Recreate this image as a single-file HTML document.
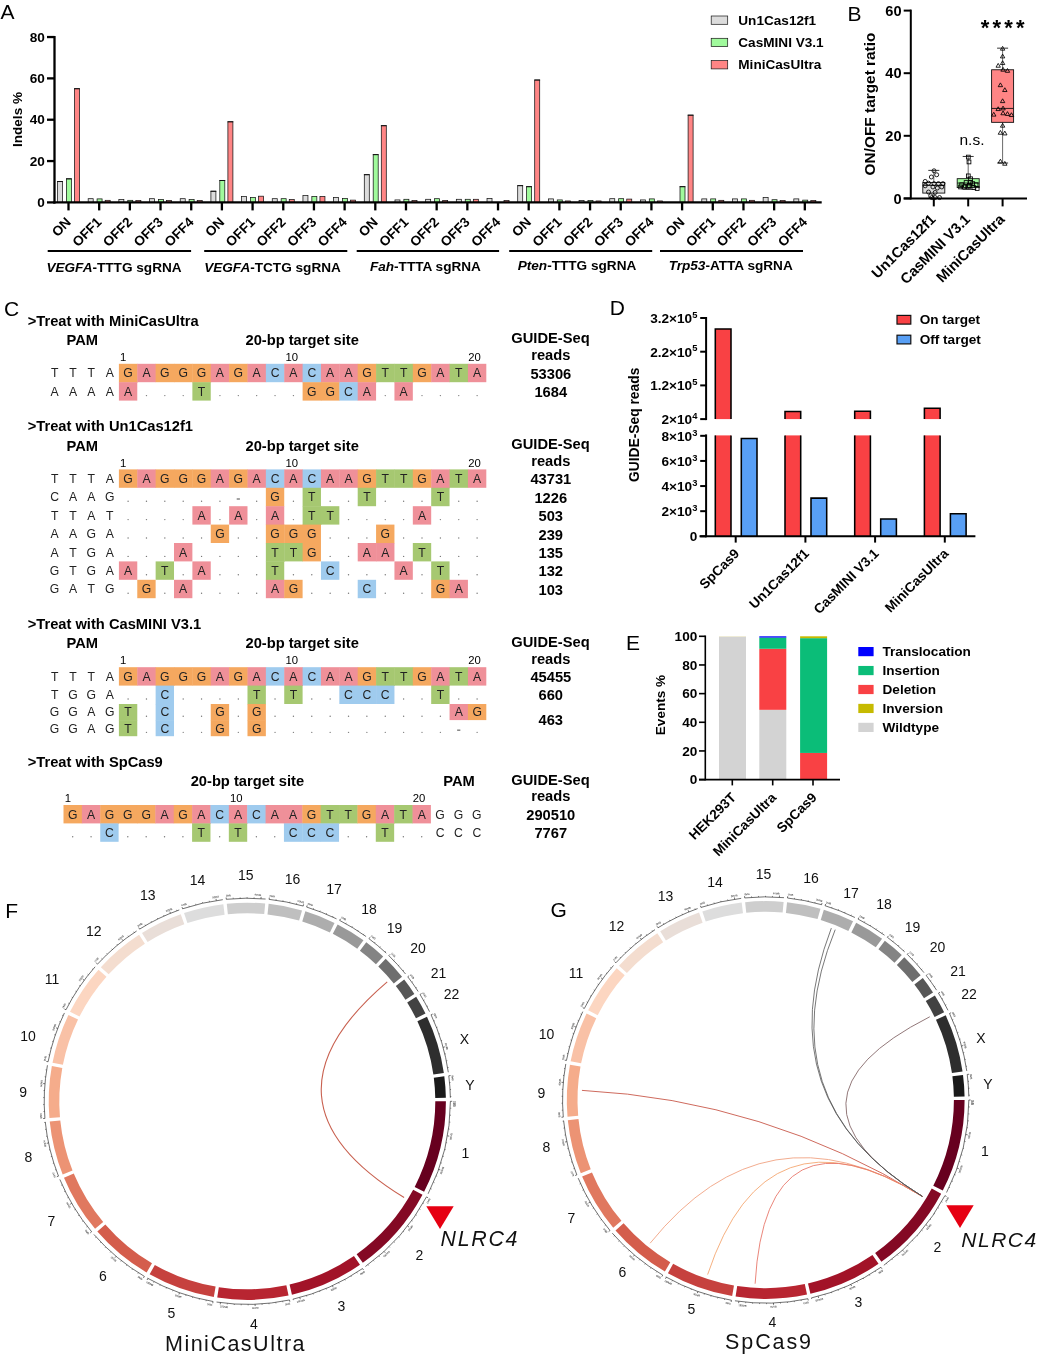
<!DOCTYPE html>
<html lang="en">
<head>
<meta charset="utf-8">
<title>Figure</title>
<style>
html,body{margin:0;padding:0;background:#fff;}
svg{display:block;font-family:"Liberation Sans", sans-serif;}
</style>
</head>
<body>
<svg width="1040" height="1356" viewBox="0 0 1040 1356">
<rect x="0" y="0" width="1040" height="1356" fill="#fff"/>
<text x="0.50" y="18.80" font-size="21">A</text>
<text x="847.50" y="20.60" font-size="21">B</text>
<text x="4.00" y="315.50" font-size="21">C</text>
<text x="609.80" y="315.20" font-size="21">D</text>
<text x="626.00" y="650.40" font-size="21">E</text>
<text x="5.30" y="917.60" font-size="21">F</text>
<text x="550.50" y="917.20" font-size="21">G</text>
<g id="panelA">
<rect x="57.50" y="181.52" width="5.00" height="20.88" fill="#dcdcdc" stroke="#151515" stroke-width="0.75" />
<line x1="57.10" y1="181.52" x2="62.90" y2="181.52" stroke="#111" stroke-width="1.0" />
<rect x="66.40" y="178.84" width="5.00" height="23.56" fill="#a0fa9c" stroke="#151515" stroke-width="0.75" />
<line x1="66.00" y1="178.84" x2="71.80" y2="178.84" stroke="#111" stroke-width="1.0" />
<rect x="74.50" y="88.72" width="5.00" height="113.69" fill="#ff8585" stroke="#151515" stroke-width="0.75" />
<line x1="74.10" y1="88.72" x2="79.90" y2="88.72" stroke="#111" stroke-width="1.0" />
<rect x="88.18" y="198.68" width="5.00" height="3.72" fill="#dcdcdc" stroke="#151515" stroke-width="0.75" />
<rect x="97.08" y="198.89" width="5.00" height="3.51" fill="#a0fa9c" stroke="#151515" stroke-width="0.75" />
<rect x="105.18" y="200.33" width="5.00" height="2.07" fill="#ff8585" stroke="#151515" stroke-width="0.75" />
<rect x="118.86" y="199.51" width="5.00" height="2.89" fill="#dcdcdc" stroke="#151515" stroke-width="0.75" />
<rect x="127.76" y="200.33" width="5.00" height="2.07" fill="#a0fa9c" stroke="#151515" stroke-width="0.75" />
<rect x="135.86" y="200.54" width="5.00" height="1.86" fill="#ff8585" stroke="#151515" stroke-width="0.75" />
<rect x="149.54" y="198.68" width="5.00" height="3.72" fill="#dcdcdc" stroke="#151515" stroke-width="0.75" />
<rect x="158.44" y="199.51" width="5.00" height="2.89" fill="#a0fa9c" stroke="#151515" stroke-width="0.75" />
<rect x="166.54" y="200.54" width="5.00" height="1.86" fill="#ff8585" stroke="#151515" stroke-width="0.75" />
<rect x="180.22" y="198.68" width="5.00" height="3.72" fill="#dcdcdc" stroke="#151515" stroke-width="0.75" />
<rect x="189.12" y="199.51" width="5.00" height="2.89" fill="#a0fa9c" stroke="#151515" stroke-width="0.75" />
<rect x="197.22" y="200.54" width="5.00" height="1.86" fill="#ff8585" stroke="#151515" stroke-width="0.75" />
<rect x="210.90" y="191.24" width="5.00" height="11.16" fill="#dcdcdc" stroke="#151515" stroke-width="0.75" />
<line x1="210.50" y1="191.24" x2="216.30" y2="191.24" stroke="#111" stroke-width="1.0" />
<rect x="219.80" y="180.49" width="5.00" height="21.91" fill="#a0fa9c" stroke="#151515" stroke-width="0.75" />
<line x1="219.40" y1="180.49" x2="225.20" y2="180.49" stroke="#111" stroke-width="1.0" />
<rect x="227.90" y="121.79" width="5.00" height="80.61" fill="#ff8585" stroke="#151515" stroke-width="0.75" />
<line x1="227.50" y1="121.79" x2="233.30" y2="121.79" stroke="#111" stroke-width="1.0" />
<rect x="241.58" y="196.41" width="5.00" height="5.99" fill="#dcdcdc" stroke="#151515" stroke-width="0.75" />
<rect x="250.48" y="197.44" width="5.00" height="4.96" fill="#a0fa9c" stroke="#151515" stroke-width="0.75" />
<rect x="258.58" y="196.20" width="5.00" height="6.20" fill="#ff8585" stroke="#151515" stroke-width="0.75" />
<rect x="272.26" y="198.68" width="5.00" height="3.72" fill="#dcdcdc" stroke="#151515" stroke-width="0.75" />
<rect x="281.16" y="198.68" width="5.00" height="3.72" fill="#a0fa9c" stroke="#151515" stroke-width="0.75" />
<rect x="289.26" y="199.51" width="5.00" height="2.89" fill="#ff8585" stroke="#151515" stroke-width="0.75" />
<rect x="302.94" y="195.58" width="5.00" height="6.82" fill="#dcdcdc" stroke="#151515" stroke-width="0.75" />
<rect x="311.84" y="196.41" width="5.00" height="5.99" fill="#a0fa9c" stroke="#151515" stroke-width="0.75" />
<rect x="319.94" y="196.41" width="5.00" height="5.99" fill="#ff8585" stroke="#151515" stroke-width="0.75" />
<rect x="333.62" y="197.44" width="5.00" height="4.96" fill="#dcdcdc" stroke="#151515" stroke-width="0.75" />
<rect x="342.52" y="198.47" width="5.00" height="3.93" fill="#a0fa9c" stroke="#151515" stroke-width="0.75" />
<rect x="350.62" y="200.13" width="5.00" height="2.27" fill="#ff8585" stroke="#151515" stroke-width="0.75" />
<rect x="364.30" y="174.70" width="5.00" height="27.70" fill="#dcdcdc" stroke="#151515" stroke-width="0.75" />
<line x1="363.90" y1="174.70" x2="369.70" y2="174.70" stroke="#111" stroke-width="1.0" />
<rect x="373.20" y="154.65" width="5.00" height="47.75" fill="#a0fa9c" stroke="#151515" stroke-width="0.75" />
<line x1="372.80" y1="154.65" x2="378.60" y2="154.65" stroke="#111" stroke-width="1.0" />
<rect x="381.30" y="125.71" width="5.00" height="76.69" fill="#ff8585" stroke="#151515" stroke-width="0.75" />
<line x1="380.90" y1="125.71" x2="386.70" y2="125.71" stroke="#111" stroke-width="1.0" />
<rect x="394.98" y="199.92" width="5.00" height="2.48" fill="#dcdcdc" stroke="#151515" stroke-width="0.75" />
<rect x="403.88" y="199.30" width="5.00" height="3.10" fill="#a0fa9c" stroke="#151515" stroke-width="0.75" />
<rect x="411.98" y="200.54" width="5.00" height="1.86" fill="#ff8585" stroke="#151515" stroke-width="0.75" />
<rect x="425.66" y="199.30" width="5.00" height="3.10" fill="#dcdcdc" stroke="#151515" stroke-width="0.75" />
<rect x="434.56" y="198.68" width="5.00" height="3.72" fill="#a0fa9c" stroke="#151515" stroke-width="0.75" />
<rect x="442.66" y="200.54" width="5.00" height="1.86" fill="#ff8585" stroke="#151515" stroke-width="0.75" />
<rect x="456.34" y="199.30" width="5.00" height="3.10" fill="#dcdcdc" stroke="#151515" stroke-width="0.75" />
<rect x="465.24" y="199.30" width="5.00" height="3.10" fill="#a0fa9c" stroke="#151515" stroke-width="0.75" />
<rect x="473.34" y="199.30" width="5.00" height="3.10" fill="#ff8585" stroke="#151515" stroke-width="0.75" />
<rect x="487.02" y="198.47" width="5.00" height="3.93" fill="#dcdcdc" stroke="#151515" stroke-width="0.75" />
<rect x="504.02" y="200.54" width="5.00" height="1.86" fill="#ff8585" stroke="#151515" stroke-width="0.75" />
<rect x="517.70" y="185.66" width="5.00" height="16.74" fill="#dcdcdc" stroke="#151515" stroke-width="0.75" />
<line x1="517.30" y1="185.66" x2="523.10" y2="185.66" stroke="#111" stroke-width="1.0" />
<rect x="526.60" y="186.69" width="5.00" height="15.71" fill="#a0fa9c" stroke="#151515" stroke-width="0.75" />
<line x1="526.20" y1="186.69" x2="532.00" y2="186.69" stroke="#111" stroke-width="1.0" />
<rect x="534.70" y="80.03" width="5.00" height="122.37" fill="#ff8585" stroke="#151515" stroke-width="0.75" />
<line x1="534.30" y1="80.03" x2="540.10" y2="80.03" stroke="#111" stroke-width="1.0" />
<rect x="548.38" y="198.89" width="5.00" height="3.51" fill="#dcdcdc" stroke="#151515" stroke-width="0.75" />
<rect x="557.28" y="199.92" width="5.00" height="2.48" fill="#a0fa9c" stroke="#151515" stroke-width="0.75" />
<rect x="565.38" y="200.95" width="5.00" height="1.45" fill="#ff8585" stroke="#151515" stroke-width="0.75" />
<rect x="579.06" y="200.54" width="5.00" height="1.86" fill="#dcdcdc" stroke="#151515" stroke-width="0.75" />
<rect x="587.96" y="200.54" width="5.00" height="1.86" fill="#a0fa9c" stroke="#151515" stroke-width="0.75" />
<rect x="596.06" y="200.95" width="5.00" height="1.45" fill="#ff8585" stroke="#151515" stroke-width="0.75" />
<rect x="609.74" y="198.68" width="5.00" height="3.72" fill="#dcdcdc" stroke="#151515" stroke-width="0.75" />
<rect x="618.64" y="198.68" width="5.00" height="3.72" fill="#a0fa9c" stroke="#151515" stroke-width="0.75" />
<rect x="626.74" y="199.09" width="5.00" height="3.31" fill="#ff8585" stroke="#151515" stroke-width="0.75" />
<rect x="640.42" y="199.92" width="5.00" height="2.48" fill="#dcdcdc" stroke="#151515" stroke-width="0.75" />
<rect x="649.32" y="198.89" width="5.00" height="3.51" fill="#a0fa9c" stroke="#151515" stroke-width="0.75" />
<rect x="657.42" y="200.95" width="5.00" height="1.45" fill="#ff8585" stroke="#151515" stroke-width="0.75" />
<rect x="680.00" y="186.69" width="5.00" height="15.71" fill="#a0fa9c" stroke="#151515" stroke-width="0.75" />
<line x1="679.60" y1="186.69" x2="685.40" y2="186.69" stroke="#111" stroke-width="1.0" />
<rect x="688.10" y="115.17" width="5.00" height="87.23" fill="#ff8585" stroke="#151515" stroke-width="0.75" />
<line x1="687.70" y1="115.17" x2="693.50" y2="115.17" stroke="#111" stroke-width="1.0" />
<rect x="701.78" y="198.89" width="5.00" height="3.51" fill="#dcdcdc" stroke="#151515" stroke-width="0.75" />
<rect x="710.68" y="198.89" width="5.00" height="3.51" fill="#a0fa9c" stroke="#151515" stroke-width="0.75" />
<rect x="718.78" y="200.33" width="5.00" height="2.07" fill="#ff8585" stroke="#151515" stroke-width="0.75" />
<rect x="732.46" y="198.89" width="5.00" height="3.51" fill="#dcdcdc" stroke="#151515" stroke-width="0.75" />
<rect x="741.36" y="198.89" width="5.00" height="3.51" fill="#a0fa9c" stroke="#151515" stroke-width="0.75" />
<rect x="749.46" y="200.33" width="5.00" height="2.07" fill="#ff8585" stroke="#151515" stroke-width="0.75" />
<rect x="763.14" y="197.44" width="5.00" height="4.96" fill="#dcdcdc" stroke="#151515" stroke-width="0.75" />
<rect x="772.04" y="199.71" width="5.00" height="2.69" fill="#a0fa9c" stroke="#151515" stroke-width="0.75" />
<rect x="780.14" y="200.54" width="5.00" height="1.86" fill="#ff8585" stroke="#151515" stroke-width="0.75" />
<rect x="793.82" y="198.89" width="5.00" height="3.51" fill="#dcdcdc" stroke="#151515" stroke-width="0.75" />
<rect x="802.72" y="200.13" width="5.00" height="2.27" fill="#a0fa9c" stroke="#151515" stroke-width="0.75" />
<rect x="810.82" y="200.54" width="5.00" height="1.86" fill="#ff8585" stroke="#151515" stroke-width="0.75" />
<line x1="54.50" y1="36.00" x2="54.50" y2="203.60" stroke="#000" stroke-width="2.3" />
<line x1="53.40" y1="202.40" x2="821.70" y2="202.40" stroke="#000" stroke-width="2.4" />
<line x1="47.00" y1="202.40" x2="54.50" y2="202.40" stroke="#000" stroke-width="2.3" />
<text x="44.80" y="207.10" font-size="13.6" font-weight="bold" text-anchor="end">0</text>
<line x1="47.00" y1="161.06" x2="54.50" y2="161.06" stroke="#000" stroke-width="2.3" />
<text x="44.80" y="165.76" font-size="13.6" font-weight="bold" text-anchor="end">20</text>
<line x1="47.00" y1="119.72" x2="54.50" y2="119.72" stroke="#000" stroke-width="2.3" />
<text x="44.80" y="124.42" font-size="13.6" font-weight="bold" text-anchor="end">40</text>
<line x1="47.00" y1="78.38" x2="54.50" y2="78.38" stroke="#000" stroke-width="2.3" />
<text x="44.80" y="83.08" font-size="13.6" font-weight="bold" text-anchor="end">60</text>
<line x1="47.00" y1="37.04" x2="54.50" y2="37.04" stroke="#000" stroke-width="2.3" />
<text x="44.80" y="41.74" font-size="13.6" font-weight="bold" text-anchor="end">80</text>
<line x1="68.50" y1="202.40" x2="68.50" y2="210.40" stroke="#000" stroke-width="2.3" />
<text x="71.80" y="223.00" font-size="13.6" font-weight="bold" text-anchor="end" transform="rotate(-45 71.80 223.00)">ON</text>
<line x1="99.18" y1="202.40" x2="99.18" y2="210.40" stroke="#000" stroke-width="2.3" />
<text x="102.48" y="223.00" font-size="13.6" font-weight="bold" text-anchor="end" transform="rotate(-45 102.48 223.00)">OFF1</text>
<line x1="129.86" y1="202.40" x2="129.86" y2="210.40" stroke="#000" stroke-width="2.3" />
<text x="133.16" y="223.00" font-size="13.6" font-weight="bold" text-anchor="end" transform="rotate(-45 133.16 223.00)">OFF2</text>
<line x1="160.54" y1="202.40" x2="160.54" y2="210.40" stroke="#000" stroke-width="2.3" />
<text x="163.84" y="223.00" font-size="13.6" font-weight="bold" text-anchor="end" transform="rotate(-45 163.84 223.00)">OFF3</text>
<line x1="191.22" y1="202.40" x2="191.22" y2="210.40" stroke="#000" stroke-width="2.3" />
<text x="194.52" y="223.00" font-size="13.6" font-weight="bold" text-anchor="end" transform="rotate(-45 194.52 223.00)">OFF4</text>
<line x1="221.90" y1="202.40" x2="221.90" y2="210.40" stroke="#000" stroke-width="2.3" />
<text x="225.20" y="223.00" font-size="13.6" font-weight="bold" text-anchor="end" transform="rotate(-45 225.20 223.00)">ON</text>
<line x1="252.58" y1="202.40" x2="252.58" y2="210.40" stroke="#000" stroke-width="2.3" />
<text x="255.88" y="223.00" font-size="13.6" font-weight="bold" text-anchor="end" transform="rotate(-45 255.88 223.00)">OFF1</text>
<line x1="283.26" y1="202.40" x2="283.26" y2="210.40" stroke="#000" stroke-width="2.3" />
<text x="286.56" y="223.00" font-size="13.6" font-weight="bold" text-anchor="end" transform="rotate(-45 286.56 223.00)">OFF2</text>
<line x1="313.94" y1="202.40" x2="313.94" y2="210.40" stroke="#000" stroke-width="2.3" />
<text x="317.24" y="223.00" font-size="13.6" font-weight="bold" text-anchor="end" transform="rotate(-45 317.24 223.00)">OFF3</text>
<line x1="344.62" y1="202.40" x2="344.62" y2="210.40" stroke="#000" stroke-width="2.3" />
<text x="347.92" y="223.00" font-size="13.6" font-weight="bold" text-anchor="end" transform="rotate(-45 347.92 223.00)">OFF4</text>
<line x1="375.30" y1="202.40" x2="375.30" y2="210.40" stroke="#000" stroke-width="2.3" />
<text x="378.60" y="223.00" font-size="13.6" font-weight="bold" text-anchor="end" transform="rotate(-45 378.60 223.00)">ON</text>
<line x1="405.98" y1="202.40" x2="405.98" y2="210.40" stroke="#000" stroke-width="2.3" />
<text x="409.28" y="223.00" font-size="13.6" font-weight="bold" text-anchor="end" transform="rotate(-45 409.28 223.00)">OFF1</text>
<line x1="436.66" y1="202.40" x2="436.66" y2="210.40" stroke="#000" stroke-width="2.3" />
<text x="439.96" y="223.00" font-size="13.6" font-weight="bold" text-anchor="end" transform="rotate(-45 439.96 223.00)">OFF2</text>
<line x1="467.34" y1="202.40" x2="467.34" y2="210.40" stroke="#000" stroke-width="2.3" />
<text x="470.64" y="223.00" font-size="13.6" font-weight="bold" text-anchor="end" transform="rotate(-45 470.64 223.00)">OFF3</text>
<line x1="498.02" y1="202.40" x2="498.02" y2="210.40" stroke="#000" stroke-width="2.3" />
<text x="501.32" y="223.00" font-size="13.6" font-weight="bold" text-anchor="end" transform="rotate(-45 501.32 223.00)">OFF4</text>
<line x1="528.70" y1="202.40" x2="528.70" y2="210.40" stroke="#000" stroke-width="2.3" />
<text x="532.00" y="223.00" font-size="13.6" font-weight="bold" text-anchor="end" transform="rotate(-45 532.00 223.00)">ON</text>
<line x1="559.38" y1="202.40" x2="559.38" y2="210.40" stroke="#000" stroke-width="2.3" />
<text x="562.68" y="223.00" font-size="13.6" font-weight="bold" text-anchor="end" transform="rotate(-45 562.68 223.00)">OFF1</text>
<line x1="590.06" y1="202.40" x2="590.06" y2="210.40" stroke="#000" stroke-width="2.3" />
<text x="593.36" y="223.00" font-size="13.6" font-weight="bold" text-anchor="end" transform="rotate(-45 593.36 223.00)">OFF2</text>
<line x1="620.74" y1="202.40" x2="620.74" y2="210.40" stroke="#000" stroke-width="2.3" />
<text x="624.04" y="223.00" font-size="13.6" font-weight="bold" text-anchor="end" transform="rotate(-45 624.04 223.00)">OFF3</text>
<line x1="651.42" y1="202.40" x2="651.42" y2="210.40" stroke="#000" stroke-width="2.3" />
<text x="654.72" y="223.00" font-size="13.6" font-weight="bold" text-anchor="end" transform="rotate(-45 654.72 223.00)">OFF4</text>
<line x1="682.10" y1="202.40" x2="682.10" y2="210.40" stroke="#000" stroke-width="2.3" />
<text x="685.40" y="223.00" font-size="13.6" font-weight="bold" text-anchor="end" transform="rotate(-45 685.40 223.00)">ON</text>
<line x1="712.78" y1="202.40" x2="712.78" y2="210.40" stroke="#000" stroke-width="2.3" />
<text x="716.08" y="223.00" font-size="13.6" font-weight="bold" text-anchor="end" transform="rotate(-45 716.08 223.00)">OFF1</text>
<line x1="743.46" y1="202.40" x2="743.46" y2="210.40" stroke="#000" stroke-width="2.3" />
<text x="746.76" y="223.00" font-size="13.6" font-weight="bold" text-anchor="end" transform="rotate(-45 746.76 223.00)">OFF2</text>
<line x1="774.14" y1="202.40" x2="774.14" y2="210.40" stroke="#000" stroke-width="2.3" />
<text x="777.44" y="223.00" font-size="13.6" font-weight="bold" text-anchor="end" transform="rotate(-45 777.44 223.00)">OFF3</text>
<line x1="804.82" y1="202.40" x2="804.82" y2="210.40" stroke="#000" stroke-width="2.3" />
<text x="808.12" y="223.00" font-size="13.6" font-weight="bold" text-anchor="end" transform="rotate(-45 808.12 223.00)">OFF4</text>
<text x="22.00" y="119.50" font-size="13.6" font-weight="bold" text-anchor="middle" transform="rotate(-90 22.00 119.50)">Indels %</text>
<line x1="47.70" y1="251.00" x2="191.10" y2="251.00" stroke="#000" stroke-width="2" />
<text x="114.00" y="271.60" font-size="13.6" font-weight="bold" text-anchor="middle"><tspan font-style="italic">VEGFA</tspan>-TTTG sgRNA</text>
<line x1="204.20" y1="251.00" x2="347.30" y2="251.00" stroke="#000" stroke-width="2" />
<text x="272.50" y="271.60" font-size="13.6" font-weight="bold" text-anchor="middle"><tspan font-style="italic">VEGFA</tspan>-TCTG sgRNA</text>
<line x1="356.70" y1="251.00" x2="499.10" y2="251.00" stroke="#000" stroke-width="2" />
<text x="425.40" y="271.20" font-size="13.6" font-weight="bold" text-anchor="middle"><tspan font-style="italic">Fah</tspan>-TTTA sgRNA</text>
<line x1="509.20" y1="251.00" x2="652.20" y2="251.00" stroke="#000" stroke-width="2" />
<text x="577.00" y="270.40" font-size="13.6" font-weight="bold" text-anchor="middle"><tspan font-style="italic">Pten</tspan>-TTTG sgRNA</text>
<line x1="660.00" y1="251.00" x2="803.00" y2="251.00" stroke="#000" stroke-width="2" />
<text x="730.70" y="270.00" font-size="13.6" font-weight="bold" text-anchor="middle"><tspan font-style="italic">Trp53</tspan>-ATTA sgRNA</text>
<rect x="711.20" y="16.00" width="16.50" height="8.30" fill="#dcdcdc" stroke="#151515" stroke-width="0.7" />
<text x="738.30" y="24.70" font-size="13.6" font-weight="bold">Un1Cas12f1</text>
<rect x="711.20" y="38.30" width="16.50" height="8.30" fill="#a0fa9c" stroke="#151515" stroke-width="0.7" />
<text x="738.30" y="47.00" font-size="13.6" font-weight="bold">CasMINI V3.1</text>
<rect x="711.20" y="60.60" width="16.50" height="8.30" fill="#ff8585" stroke="#151515" stroke-width="0.7" />
<text x="738.30" y="69.30" font-size="13.6" font-weight="bold">MiniCasUltra</text>
</g>
<g id="panelB">
<line x1="933.80" y1="170.39" x2="933.80" y2="198.09" stroke="#444" stroke-width="0.8" />
<line x1="928.30" y1="170.39" x2="939.30" y2="170.39" stroke="#111" stroke-width="0.85" />
<line x1="928.30" y1="198.09" x2="939.30" y2="198.09" stroke="#111" stroke-width="0.85" />
<rect x="922.80" y="182.44" width="22.00" height="10.64" fill="#dcdcdc" stroke="#111" stroke-width="0.9" />
<line x1="922.80" y1="185.41" x2="944.80" y2="185.41" stroke="#111" stroke-width="0.9" />
<line x1="968.20" y1="156.46" x2="968.20" y2="189.32" stroke="#444" stroke-width="0.8" />
<line x1="962.70" y1="156.46" x2="973.70" y2="156.46" stroke="#111" stroke-width="0.85" />
<line x1="962.70" y1="189.32" x2="973.70" y2="189.32" stroke="#111" stroke-width="0.85" />
<rect x="957.20" y="178.68" width="22.00" height="8.92" fill="#a0fa9c" stroke="#111" stroke-width="0.9" />
<line x1="957.20" y1="183.06" x2="979.20" y2="183.06" stroke="#111" stroke-width="0.9" />
<line x1="1002.60" y1="48.16" x2="1002.60" y2="163.03" stroke="#444" stroke-width="0.8" />
<line x1="997.10" y1="48.16" x2="1008.10" y2="48.16" stroke="#111" stroke-width="0.85" />
<line x1="997.10" y1="163.03" x2="1008.10" y2="163.03" stroke="#111" stroke-width="0.85" />
<rect x="991.60" y="69.76" width="22.00" height="52.58" fill="#ff8585" stroke="#111" stroke-width="0.9" />
<line x1="991.60" y1="108.41" x2="1013.60" y2="108.41" stroke="#111" stroke-width="0.9" />
<circle cx="934.03" cy="170.80" r="2.0" fill="none" stroke="#000" stroke-width="0.85"/>
<circle cx="936.68" cy="174.78" r="2.0" fill="none" stroke="#000" stroke-width="0.85"/>
<circle cx="931.37" cy="176.99" r="2.0" fill="none" stroke="#000" stroke-width="0.85"/>
<circle cx="925.18" cy="181.42" r="2.0" fill="none" stroke="#000" stroke-width="0.85"/>
<circle cx="928.50" cy="183.19" r="2.0" fill="none" stroke="#000" stroke-width="0.85"/>
<circle cx="934.03" cy="183.63" r="2.0" fill="none" stroke="#000" stroke-width="0.85"/>
<circle cx="938.45" cy="183.63" r="2.0" fill="none" stroke="#000" stroke-width="0.85"/>
<circle cx="942.88" cy="183.63" r="2.0" fill="none" stroke="#000" stroke-width="0.85"/>
<circle cx="925.18" cy="185.84" r="2.0" fill="none" stroke="#000" stroke-width="0.85"/>
<circle cx="932.92" cy="186.95" r="2.0" fill="none" stroke="#000" stroke-width="0.85"/>
<circle cx="937.35" cy="188.05" r="2.0" fill="none" stroke="#000" stroke-width="0.85"/>
<circle cx="928.50" cy="192.04" r="2.0" fill="none" stroke="#000" stroke-width="0.85"/>
<circle cx="935.13" cy="192.48" r="2.0" fill="none" stroke="#000" stroke-width="0.85"/>
<circle cx="930.71" cy="195.80" r="2.0" fill="none" stroke="#000" stroke-width="0.85"/>
<circle cx="935.13" cy="197.57" r="2.0" fill="none" stroke="#000" stroke-width="0.85"/>
<circle cx="939.56" cy="197.57" r="2.0" fill="none" stroke="#000" stroke-width="0.85"/>
<circle cx="931.81" cy="197.57" r="2.0" fill="none" stroke="#000" stroke-width="0.85"/>
<circle cx="941.77" cy="186.95" r="2.0" fill="none" stroke="#000" stroke-width="0.85"/>
<rect x="966.42" y="155.18" width="3.80" height="3.80" fill="none" stroke="#000" stroke-width="0.85" />
<rect x="967.08" y="160.05" width="3.80" height="3.80" fill="none" stroke="#000" stroke-width="0.85" />
<rect x="966.42" y="173.98" width="3.80" height="3.80" fill="none" stroke="#000" stroke-width="0.85" />
<rect x="968.63" y="176.86" width="3.80" height="3.80" fill="none" stroke="#000" stroke-width="0.85" />
<rect x="964.21" y="180.62" width="3.80" height="3.80" fill="none" stroke="#000" stroke-width="0.85" />
<rect x="968.63" y="180.62" width="3.80" height="3.80" fill="none" stroke="#000" stroke-width="0.85" />
<rect x="970.84" y="181.73" width="3.80" height="3.80" fill="none" stroke="#000" stroke-width="0.85" />
<rect x="958.68" y="185.05" width="3.80" height="3.80" fill="none" stroke="#000" stroke-width="0.85" />
<rect x="961.99" y="185.05" width="3.80" height="3.80" fill="none" stroke="#000" stroke-width="0.85" />
<rect x="966.42" y="185.05" width="3.80" height="3.80" fill="none" stroke="#000" stroke-width="0.85" />
<rect x="971.95" y="185.71" width="3.80" height="3.80" fill="none" stroke="#000" stroke-width="0.85" />
<rect x="975.27" y="186.60" width="3.80" height="3.80" fill="none" stroke="#000" stroke-width="0.85" />
<rect x="967.52" y="183.50" width="3.80" height="3.80" fill="none" stroke="#000" stroke-width="0.85" />
<rect x="959.78" y="182.83" width="3.80" height="3.80" fill="none" stroke="#000" stroke-width="0.85" />
<rect x="974.16" y="182.83" width="3.80" height="3.80" fill="none" stroke="#000" stroke-width="0.85" />
<path d="M1002.61 46.37 L1004.81 50.17 L1000.41 50.17 Z" fill="none" stroke="#000" stroke-width="0.85"/>
<path d="M1002.61 54.12 L1004.81 57.92 L1000.41 57.92 Z" fill="none" stroke="#000" stroke-width="0.85"/>
<path d="M1002.61 60.75 L1004.81 64.55 L1000.41 64.55 Z" fill="none" stroke="#000" stroke-width="0.85"/>
<path d="M998.19 63.41 L1000.39 67.21 L995.99 67.21 Z" fill="none" stroke="#000" stroke-width="0.85"/>
<path d="M1003.05 67.39 L1005.25 71.19 L1000.85 71.19 Z" fill="none" stroke="#000" stroke-width="0.85"/>
<path d="M1007.48 68.50 L1009.68 72.30 L1005.28 72.30 Z" fill="none" stroke="#000" stroke-width="0.85"/>
<path d="M1000.40 82.88 L1002.60 86.68 L998.20 86.68 Z" fill="none" stroke="#000" stroke-width="0.85"/>
<path d="M1004.82 87.74 L1007.02 91.54 L1002.62 91.54 Z" fill="none" stroke="#000" stroke-width="0.85"/>
<path d="M1002.61 98.81 L1004.81 102.61 L1000.41 102.61 Z" fill="none" stroke="#000" stroke-width="0.85"/>
<path d="M998.19 106.77 L1000.39 110.57 L995.99 110.57 Z" fill="none" stroke="#000" stroke-width="0.85"/>
<path d="M1003.05 106.11 L1005.25 109.91 L1000.85 109.91 Z" fill="none" stroke="#000" stroke-width="0.85"/>
<path d="M993.76 112.30 L995.96 116.10 L991.56 116.10 Z" fill="none" stroke="#000" stroke-width="0.85"/>
<path d="M1003.05 110.97 L1005.25 114.77 L1000.85 114.77 Z" fill="none" stroke="#000" stroke-width="0.85"/>
<path d="M1007.48 111.64 L1009.68 115.44 L1005.28 115.44 Z" fill="none" stroke="#000" stroke-width="0.85"/>
<path d="M1011.46 112.74 L1013.66 116.54 L1009.26 116.54 Z" fill="none" stroke="#000" stroke-width="0.85"/>
<path d="M1002.61 123.36 L1004.81 127.16 L1000.41 127.16 Z" fill="none" stroke="#000" stroke-width="0.85"/>
<path d="M1000.40 130.44 L1002.60 134.24 L998.20 134.24 Z" fill="none" stroke="#000" stroke-width="0.85"/>
<path d="M1004.82 131.11 L1007.02 134.91 L1002.62 134.91 Z" fill="none" stroke="#000" stroke-width="0.85"/>
<path d="M1000.40 159.20 L1002.60 163.00 L998.20 163.00 Z" fill="none" stroke="#000" stroke-width="0.85"/>
<path d="M1004.82 161.42 L1007.02 165.22 L1002.62 165.22 Z" fill="none" stroke="#000" stroke-width="0.85"/>
<line x1="910.80" y1="9.60" x2="910.80" y2="199.40" stroke="#000" stroke-width="2" />
<line x1="903.70" y1="198.40" x2="1027.00" y2="198.40" stroke="#000" stroke-width="2" />
<line x1="903.70" y1="198.40" x2="910.80" y2="198.40" stroke="#000" stroke-width="2" />
<text x="901.50" y="203.60" font-size="14.6" font-weight="bold" text-anchor="end">0</text>
<line x1="903.70" y1="135.80" x2="910.80" y2="135.80" stroke="#000" stroke-width="2" />
<text x="901.50" y="141.00" font-size="14.6" font-weight="bold" text-anchor="end">20</text>
<line x1="903.70" y1="73.20" x2="910.80" y2="73.20" stroke="#000" stroke-width="2" />
<text x="901.50" y="78.40" font-size="14.6" font-weight="bold" text-anchor="end">40</text>
<line x1="903.70" y1="10.60" x2="910.80" y2="10.60" stroke="#000" stroke-width="2" />
<text x="901.50" y="15.80" font-size="14.6" font-weight="bold" text-anchor="end">60</text>
<line x1="933.80" y1="198.40" x2="933.80" y2="206.40" stroke="#000" stroke-width="2" />
<text x="936.60" y="220.20" font-size="14.6" font-weight="bold" text-anchor="end" transform="rotate(-45 936.60 220.20)">Un1Cas12f1</text>
<line x1="968.20" y1="198.40" x2="968.20" y2="206.40" stroke="#000" stroke-width="2" />
<text x="971.00" y="220.20" font-size="14.6" font-weight="bold" text-anchor="end" transform="rotate(-45 971.00 220.20)">CasMINI V3.1</text>
<line x1="1002.60" y1="198.40" x2="1002.60" y2="206.40" stroke="#000" stroke-width="2" />
<text x="1005.40" y="220.20" font-size="14.6" font-weight="bold" text-anchor="end" transform="rotate(-45 1005.40 220.20)">MiniCasUltra</text>
<text x="875.30" y="104.00" font-size="15.4" font-weight="bold" text-anchor="middle" transform="rotate(-90 875.30 104.00)">ON/OFF target ratio</text>
<text x="972.00" y="145.00" font-size="15.5" text-anchor="middle">n.s.</text>
<text x="1004.20" y="34.60" font-size="22" font-weight="bold" text-anchor="middle" letter-spacing="3.2">****</text>
</g>
<g id="panelC">
<text x="27.70" y="326.20" font-size="14.7" font-weight="bold">&gt;Treat with MiniCasUltra</text>
<text x="82.30" y="345.00" font-size="14.7" font-weight="bold" text-anchor="middle">PAM</text>
<text x="302.20" y="345.00" font-size="14.7" font-weight="bold" text-anchor="middle">20-bp target site</text>
<text x="550.50" y="343.30" font-size="14.7" font-weight="bold" text-anchor="middle">GUIDE-Seq</text>
<text x="550.80" y="360.20" font-size="14.7" font-weight="bold" text-anchor="middle">reads</text>
<text x="120.10" y="360.90" font-size="11.3">1</text>
<text x="285.43" y="360.90" font-size="11.3">10</text>
<text x="468.13" y="360.90" font-size="11.3">20</text>
<rect x="118.90" y="363.80" width="18.77" height="18.80" fill="#f5a85f" />
<rect x="137.27" y="363.80" width="18.77" height="18.40" fill="#ef9099" />
<rect x="155.64" y="363.80" width="18.77" height="18.40" fill="#f5a85f" />
<rect x="174.01" y="363.80" width="18.77" height="18.40" fill="#f5a85f" />
<rect x="192.38" y="363.80" width="18.77" height="18.80" fill="#f5a85f" />
<rect x="210.75" y="363.80" width="18.77" height="18.40" fill="#ef9099" />
<rect x="229.12" y="363.80" width="18.77" height="18.40" fill="#f5a85f" />
<rect x="247.49" y="363.80" width="18.77" height="18.40" fill="#ef9099" />
<rect x="265.86" y="363.80" width="18.77" height="18.40" fill="#9fcbee" />
<rect x="284.23" y="363.80" width="18.77" height="18.40" fill="#ef9099" />
<rect x="302.60" y="363.80" width="18.77" height="18.80" fill="#9fcbee" />
<rect x="320.97" y="363.80" width="18.77" height="18.80" fill="#ef9099" />
<rect x="339.34" y="363.80" width="18.77" height="18.80" fill="#ef9099" />
<rect x="357.71" y="363.80" width="18.77" height="18.80" fill="#f5a85f" />
<rect x="376.08" y="363.80" width="18.77" height="18.40" fill="#a6c871" />
<rect x="394.45" y="363.80" width="18.77" height="18.80" fill="#a6c871" />
<rect x="412.82" y="363.80" width="18.77" height="18.40" fill="#f5a85f" />
<rect x="431.19" y="363.80" width="18.77" height="18.40" fill="#ef9099" />
<rect x="449.56" y="363.80" width="18.77" height="18.40" fill="#a6c871" />
<rect x="467.93" y="363.80" width="18.37" height="18.40" fill="#ef9099" />
<text x="128.09" y="377.40" font-size="12.2" text-anchor="middle" fill="#222">G</text>
<text x="146.46" y="377.40" font-size="12.2" text-anchor="middle" fill="#222">A</text>
<text x="164.83" y="377.40" font-size="12.2" text-anchor="middle" fill="#222">G</text>
<text x="183.19" y="377.40" font-size="12.2" text-anchor="middle" fill="#222">G</text>
<text x="201.56" y="377.40" font-size="12.2" text-anchor="middle" fill="#222">G</text>
<text x="219.94" y="377.40" font-size="12.2" text-anchor="middle" fill="#222">A</text>
<text x="238.31" y="377.40" font-size="12.2" text-anchor="middle" fill="#222">G</text>
<text x="256.68" y="377.40" font-size="12.2" text-anchor="middle" fill="#222">A</text>
<text x="275.05" y="377.40" font-size="12.2" text-anchor="middle" fill="#222">C</text>
<text x="293.42" y="377.40" font-size="12.2" text-anchor="middle" fill="#222">A</text>
<text x="311.79" y="377.40" font-size="12.2" text-anchor="middle" fill="#222">C</text>
<text x="330.16" y="377.40" font-size="12.2" text-anchor="middle" fill="#222">A</text>
<text x="348.52" y="377.40" font-size="12.2" text-anchor="middle" fill="#222">A</text>
<text x="366.89" y="377.40" font-size="12.2" text-anchor="middle" fill="#222">G</text>
<text x="385.26" y="377.40" font-size="12.2" text-anchor="middle" fill="#222">T</text>
<text x="403.63" y="377.40" font-size="12.2" text-anchor="middle" fill="#222">T</text>
<text x="422.00" y="377.40" font-size="12.2" text-anchor="middle" fill="#222">G</text>
<text x="440.38" y="377.40" font-size="12.2" text-anchor="middle" fill="#222">A</text>
<text x="458.75" y="377.40" font-size="12.2" text-anchor="middle" fill="#222">T</text>
<text x="477.12" y="377.40" font-size="12.2" text-anchor="middle" fill="#222">A</text>
<text x="54.61" y="377.40" font-size="12.2" text-anchor="middle" fill="#222">T</text>
<text x="72.97" y="377.40" font-size="12.2" text-anchor="middle" fill="#222">T</text>
<text x="91.34" y="377.40" font-size="12.2" text-anchor="middle" fill="#222">T</text>
<text x="109.72" y="377.40" font-size="12.2" text-anchor="middle" fill="#222">A</text>
<text x="550.80" y="378.70" font-size="14.7" font-weight="bold" text-anchor="middle">53306</text>
<rect x="118.90" y="382.20" width="18.37" height="18.40" fill="#ef9099" />
<rect x="192.38" y="382.20" width="18.37" height="18.40" fill="#a6c871" />
<rect x="302.60" y="382.20" width="18.77" height="18.40" fill="#f5a85f" />
<rect x="320.97" y="382.20" width="18.77" height="18.40" fill="#f5a85f" />
<rect x="339.34" y="382.20" width="18.77" height="18.40" fill="#9fcbee" />
<rect x="357.71" y="382.20" width="18.37" height="18.40" fill="#ef9099" />
<rect x="394.45" y="382.20" width="18.37" height="18.40" fill="#ef9099" />
<text x="128.09" y="395.80" font-size="12.2" text-anchor="middle" fill="#222">A</text>
<circle cx="146.46" cy="395.60" r="0.7" fill="#777"/>
<circle cx="164.83" cy="395.60" r="0.7" fill="#777"/>
<circle cx="183.19" cy="395.60" r="0.7" fill="#777"/>
<text x="201.56" y="395.80" font-size="12.2" text-anchor="middle" fill="#222">T</text>
<circle cx="219.94" cy="395.60" r="0.7" fill="#777"/>
<circle cx="238.31" cy="395.60" r="0.7" fill="#777"/>
<circle cx="256.68" cy="395.60" r="0.7" fill="#777"/>
<circle cx="275.05" cy="395.60" r="0.7" fill="#777"/>
<circle cx="293.42" cy="395.60" r="0.7" fill="#777"/>
<text x="311.79" y="395.80" font-size="12.2" text-anchor="middle" fill="#222">G</text>
<text x="330.16" y="395.80" font-size="12.2" text-anchor="middle" fill="#222">G</text>
<text x="348.52" y="395.80" font-size="12.2" text-anchor="middle" fill="#222">C</text>
<text x="366.89" y="395.80" font-size="12.2" text-anchor="middle" fill="#222">A</text>
<circle cx="385.26" cy="395.60" r="0.7" fill="#777"/>
<text x="403.63" y="395.80" font-size="12.2" text-anchor="middle" fill="#222">A</text>
<circle cx="422.00" cy="395.60" r="0.7" fill="#777"/>
<circle cx="440.38" cy="395.60" r="0.7" fill="#777"/>
<circle cx="458.75" cy="395.60" r="0.7" fill="#777"/>
<circle cx="477.12" cy="395.60" r="0.7" fill="#777"/>
<text x="54.61" y="395.80" font-size="12.2" text-anchor="middle" fill="#222">A</text>
<text x="72.97" y="395.80" font-size="12.2" text-anchor="middle" fill="#222">A</text>
<text x="91.34" y="395.80" font-size="12.2" text-anchor="middle" fill="#222">A</text>
<text x="109.72" y="395.80" font-size="12.2" text-anchor="middle" fill="#222">A</text>
<text x="550.80" y="397.10" font-size="14.7" font-weight="bold" text-anchor="middle">1684</text>
<text x="27.70" y="431.40" font-size="14.7" font-weight="bold">&gt;Treat with Un1Cas12f1</text>
<text x="82.30" y="450.60" font-size="14.7" font-weight="bold" text-anchor="middle">PAM</text>
<text x="302.20" y="450.60" font-size="14.7" font-weight="bold" text-anchor="middle">20-bp target site</text>
<text x="550.50" y="448.90" font-size="14.7" font-weight="bold" text-anchor="middle">GUIDE-Seq</text>
<text x="550.80" y="465.80" font-size="14.7" font-weight="bold" text-anchor="middle">reads</text>
<text x="120.10" y="466.50" font-size="11.3">1</text>
<text x="285.43" y="466.50" font-size="11.3">10</text>
<text x="468.13" y="466.50" font-size="11.3">20</text>
<rect x="118.90" y="469.40" width="18.77" height="18.40" fill="#f5a85f" />
<rect x="137.27" y="469.40" width="18.77" height="18.40" fill="#ef9099" />
<rect x="155.64" y="469.40" width="18.77" height="18.40" fill="#f5a85f" />
<rect x="174.01" y="469.40" width="18.77" height="18.40" fill="#f5a85f" />
<rect x="192.38" y="469.40" width="18.77" height="18.40" fill="#f5a85f" />
<rect x="210.75" y="469.40" width="18.77" height="18.40" fill="#ef9099" />
<rect x="229.12" y="469.40" width="18.77" height="18.40" fill="#f5a85f" />
<rect x="247.49" y="469.40" width="18.77" height="18.40" fill="#ef9099" />
<rect x="265.86" y="469.40" width="18.77" height="18.80" fill="#9fcbee" />
<rect x="284.23" y="469.40" width="18.77" height="18.40" fill="#ef9099" />
<rect x="302.60" y="469.40" width="18.77" height="18.80" fill="#9fcbee" />
<rect x="320.97" y="469.40" width="18.77" height="18.40" fill="#ef9099" />
<rect x="339.34" y="469.40" width="18.77" height="18.40" fill="#ef9099" />
<rect x="357.71" y="469.40" width="18.77" height="18.80" fill="#f5a85f" />
<rect x="376.08" y="469.40" width="18.77" height="18.40" fill="#a6c871" />
<rect x="394.45" y="469.40" width="18.77" height="18.40" fill="#a6c871" />
<rect x="412.82" y="469.40" width="18.77" height="18.40" fill="#f5a85f" />
<rect x="431.19" y="469.40" width="18.77" height="18.80" fill="#ef9099" />
<rect x="449.56" y="469.40" width="18.77" height="18.40" fill="#a6c871" />
<rect x="467.93" y="469.40" width="18.37" height="18.40" fill="#ef9099" />
<text x="128.09" y="483.00" font-size="12.2" text-anchor="middle" fill="#222">G</text>
<text x="146.46" y="483.00" font-size="12.2" text-anchor="middle" fill="#222">A</text>
<text x="164.83" y="483.00" font-size="12.2" text-anchor="middle" fill="#222">G</text>
<text x="183.19" y="483.00" font-size="12.2" text-anchor="middle" fill="#222">G</text>
<text x="201.56" y="483.00" font-size="12.2" text-anchor="middle" fill="#222">G</text>
<text x="219.94" y="483.00" font-size="12.2" text-anchor="middle" fill="#222">A</text>
<text x="238.31" y="483.00" font-size="12.2" text-anchor="middle" fill="#222">G</text>
<text x="256.68" y="483.00" font-size="12.2" text-anchor="middle" fill="#222">A</text>
<text x="275.05" y="483.00" font-size="12.2" text-anchor="middle" fill="#222">C</text>
<text x="293.42" y="483.00" font-size="12.2" text-anchor="middle" fill="#222">A</text>
<text x="311.79" y="483.00" font-size="12.2" text-anchor="middle" fill="#222">C</text>
<text x="330.16" y="483.00" font-size="12.2" text-anchor="middle" fill="#222">A</text>
<text x="348.52" y="483.00" font-size="12.2" text-anchor="middle" fill="#222">A</text>
<text x="366.89" y="483.00" font-size="12.2" text-anchor="middle" fill="#222">G</text>
<text x="385.26" y="483.00" font-size="12.2" text-anchor="middle" fill="#222">T</text>
<text x="403.63" y="483.00" font-size="12.2" text-anchor="middle" fill="#222">T</text>
<text x="422.00" y="483.00" font-size="12.2" text-anchor="middle" fill="#222">G</text>
<text x="440.38" y="483.00" font-size="12.2" text-anchor="middle" fill="#222">A</text>
<text x="458.75" y="483.00" font-size="12.2" text-anchor="middle" fill="#222">T</text>
<text x="477.12" y="483.00" font-size="12.2" text-anchor="middle" fill="#222">A</text>
<text x="54.61" y="483.00" font-size="12.2" text-anchor="middle" fill="#222">T</text>
<text x="72.97" y="483.00" font-size="12.2" text-anchor="middle" fill="#222">T</text>
<text x="91.34" y="483.00" font-size="12.2" text-anchor="middle" fill="#222">T</text>
<text x="109.72" y="483.00" font-size="12.2" text-anchor="middle" fill="#222">A</text>
<text x="550.80" y="484.30" font-size="14.7" font-weight="bold" text-anchor="middle">43731</text>
<rect x="265.86" y="487.80" width="18.37" height="18.80" fill="#f5a85f" />
<rect x="302.60" y="487.80" width="18.37" height="18.80" fill="#a6c871" />
<rect x="357.71" y="487.80" width="18.37" height="18.40" fill="#a6c871" />
<rect x="431.19" y="487.80" width="18.37" height="18.40" fill="#a6c871" />
<circle cx="128.09" cy="501.20" r="0.7" fill="#777"/>
<circle cx="146.46" cy="501.20" r="0.7" fill="#777"/>
<circle cx="164.83" cy="501.20" r="0.7" fill="#777"/>
<circle cx="183.19" cy="501.20" r="0.7" fill="#777"/>
<circle cx="201.56" cy="501.20" r="0.7" fill="#777"/>
<circle cx="219.94" cy="501.20" r="0.7" fill="#777"/>
<line x1="236.71" y1="499.00" x2="239.91" y2="499.00" stroke="#333" stroke-width="0.9" />
<circle cx="256.68" cy="501.20" r="0.7" fill="#777"/>
<text x="275.05" y="501.40" font-size="12.2" text-anchor="middle" fill="#222">G</text>
<circle cx="293.42" cy="501.20" r="0.7" fill="#777"/>
<text x="311.79" y="501.40" font-size="12.2" text-anchor="middle" fill="#222">T</text>
<circle cx="330.16" cy="501.20" r="0.7" fill="#777"/>
<circle cx="348.52" cy="501.20" r="0.7" fill="#777"/>
<text x="366.89" y="501.40" font-size="12.2" text-anchor="middle" fill="#222">T</text>
<circle cx="385.26" cy="501.20" r="0.7" fill="#777"/>
<circle cx="403.63" cy="501.20" r="0.7" fill="#777"/>
<circle cx="422.00" cy="501.20" r="0.7" fill="#777"/>
<text x="440.38" y="501.40" font-size="12.2" text-anchor="middle" fill="#222">T</text>
<circle cx="458.75" cy="501.20" r="0.7" fill="#777"/>
<circle cx="477.12" cy="501.20" r="0.7" fill="#777"/>
<text x="54.61" y="501.40" font-size="12.2" text-anchor="middle" fill="#222">C</text>
<text x="72.97" y="501.40" font-size="12.2" text-anchor="middle" fill="#222">A</text>
<text x="91.34" y="501.40" font-size="12.2" text-anchor="middle" fill="#222">A</text>
<text x="109.72" y="501.40" font-size="12.2" text-anchor="middle" fill="#222">G</text>
<text x="550.80" y="502.70" font-size="14.7" font-weight="bold" text-anchor="middle">1226</text>
<rect x="192.38" y="506.20" width="18.37" height="18.40" fill="#ef9099" />
<rect x="229.12" y="506.20" width="18.37" height="18.40" fill="#ef9099" />
<rect x="265.86" y="506.20" width="18.37" height="18.80" fill="#ef9099" />
<rect x="302.60" y="506.20" width="18.77" height="18.80" fill="#a6c871" />
<rect x="320.97" y="506.20" width="18.37" height="18.40" fill="#a6c871" />
<rect x="412.82" y="506.20" width="18.37" height="18.40" fill="#ef9099" />
<circle cx="128.09" cy="519.60" r="0.7" fill="#777"/>
<circle cx="146.46" cy="519.60" r="0.7" fill="#777"/>
<circle cx="164.83" cy="519.60" r="0.7" fill="#777"/>
<circle cx="183.19" cy="519.60" r="0.7" fill="#777"/>
<text x="201.56" y="519.80" font-size="12.2" text-anchor="middle" fill="#222">A</text>
<circle cx="219.94" cy="519.60" r="0.7" fill="#777"/>
<text x="238.31" y="519.80" font-size="12.2" text-anchor="middle" fill="#222">A</text>
<circle cx="256.68" cy="519.60" r="0.7" fill="#777"/>
<text x="275.05" y="519.80" font-size="12.2" text-anchor="middle" fill="#222">A</text>
<circle cx="293.42" cy="519.60" r="0.7" fill="#777"/>
<text x="311.79" y="519.80" font-size="12.2" text-anchor="middle" fill="#222">T</text>
<text x="330.16" y="519.80" font-size="12.2" text-anchor="middle" fill="#222">T</text>
<circle cx="348.52" cy="519.60" r="0.7" fill="#777"/>
<circle cx="366.89" cy="519.60" r="0.7" fill="#777"/>
<circle cx="385.26" cy="519.60" r="0.7" fill="#777"/>
<circle cx="403.63" cy="519.60" r="0.7" fill="#777"/>
<text x="422.00" y="519.80" font-size="12.2" text-anchor="middle" fill="#222">A</text>
<circle cx="440.38" cy="519.60" r="0.7" fill="#777"/>
<circle cx="458.75" cy="519.60" r="0.7" fill="#777"/>
<circle cx="477.12" cy="519.60" r="0.7" fill="#777"/>
<text x="54.61" y="519.80" font-size="12.2" text-anchor="middle" fill="#222">T</text>
<text x="72.97" y="519.80" font-size="12.2" text-anchor="middle" fill="#222">T</text>
<text x="91.34" y="519.80" font-size="12.2" text-anchor="middle" fill="#222">A</text>
<text x="109.72" y="519.80" font-size="12.2" text-anchor="middle" fill="#222">T</text>
<text x="550.80" y="521.10" font-size="14.7" font-weight="bold" text-anchor="middle">503</text>
<rect x="210.75" y="524.60" width="18.37" height="18.40" fill="#f5a85f" />
<rect x="265.86" y="524.60" width="18.77" height="18.80" fill="#f5a85f" />
<rect x="284.23" y="524.60" width="18.77" height="18.80" fill="#f5a85f" />
<rect x="302.60" y="524.60" width="18.37" height="18.80" fill="#f5a85f" />
<rect x="376.08" y="524.60" width="18.37" height="18.80" fill="#f5a85f" />
<circle cx="128.09" cy="538.00" r="0.7" fill="#777"/>
<circle cx="146.46" cy="538.00" r="0.7" fill="#777"/>
<circle cx="164.83" cy="538.00" r="0.7" fill="#777"/>
<circle cx="183.19" cy="538.00" r="0.7" fill="#777"/>
<circle cx="201.56" cy="538.00" r="0.7" fill="#777"/>
<text x="219.94" y="538.20" font-size="12.2" text-anchor="middle" fill="#222">G</text>
<circle cx="238.31" cy="538.00" r="0.7" fill="#777"/>
<circle cx="256.68" cy="538.00" r="0.7" fill="#777"/>
<text x="275.05" y="538.20" font-size="12.2" text-anchor="middle" fill="#222">G</text>
<text x="293.42" y="538.20" font-size="12.2" text-anchor="middle" fill="#222">G</text>
<text x="311.79" y="538.20" font-size="12.2" text-anchor="middle" fill="#222">G</text>
<circle cx="330.16" cy="538.00" r="0.7" fill="#777"/>
<circle cx="348.52" cy="538.00" r="0.7" fill="#777"/>
<circle cx="366.89" cy="538.00" r="0.7" fill="#777"/>
<text x="385.26" y="538.20" font-size="12.2" text-anchor="middle" fill="#222">G</text>
<circle cx="403.63" cy="538.00" r="0.7" fill="#777"/>
<circle cx="422.00" cy="538.00" r="0.7" fill="#777"/>
<circle cx="440.38" cy="538.00" r="0.7" fill="#777"/>
<circle cx="458.75" cy="538.00" r="0.7" fill="#777"/>
<circle cx="477.12" cy="538.00" r="0.7" fill="#777"/>
<text x="54.61" y="538.20" font-size="12.2" text-anchor="middle" fill="#222">A</text>
<text x="72.97" y="538.20" font-size="12.2" text-anchor="middle" fill="#222">A</text>
<text x="91.34" y="538.20" font-size="12.2" text-anchor="middle" fill="#222">G</text>
<text x="109.72" y="538.20" font-size="12.2" text-anchor="middle" fill="#222">A</text>
<text x="550.80" y="539.50" font-size="14.7" font-weight="bold" text-anchor="middle">239</text>
<rect x="174.01" y="543.00" width="18.37" height="18.40" fill="#ef9099" />
<rect x="265.86" y="543.00" width="18.77" height="18.80" fill="#a6c871" />
<rect x="284.23" y="543.00" width="18.77" height="18.40" fill="#a6c871" />
<rect x="302.60" y="543.00" width="18.37" height="18.40" fill="#f5a85f" />
<rect x="357.71" y="543.00" width="18.77" height="18.40" fill="#ef9099" />
<rect x="376.08" y="543.00" width="18.37" height="18.40" fill="#ef9099" />
<rect x="412.82" y="543.00" width="18.37" height="18.40" fill="#a6c871" />
<circle cx="128.09" cy="556.40" r="0.7" fill="#777"/>
<circle cx="146.46" cy="556.40" r="0.7" fill="#777"/>
<circle cx="164.83" cy="556.40" r="0.7" fill="#777"/>
<text x="183.19" y="556.60" font-size="12.2" text-anchor="middle" fill="#222">A</text>
<circle cx="201.56" cy="556.40" r="0.7" fill="#777"/>
<circle cx="219.94" cy="556.40" r="0.7" fill="#777"/>
<circle cx="238.31" cy="556.40" r="0.7" fill="#777"/>
<circle cx="256.68" cy="556.40" r="0.7" fill="#777"/>
<text x="275.05" y="556.60" font-size="12.2" text-anchor="middle" fill="#222">T</text>
<text x="293.42" y="556.60" font-size="12.2" text-anchor="middle" fill="#222">T</text>
<text x="311.79" y="556.60" font-size="12.2" text-anchor="middle" fill="#222">G</text>
<circle cx="330.16" cy="556.40" r="0.7" fill="#777"/>
<circle cx="348.52" cy="556.40" r="0.7" fill="#777"/>
<text x="366.89" y="556.60" font-size="12.2" text-anchor="middle" fill="#222">A</text>
<text x="385.26" y="556.60" font-size="12.2" text-anchor="middle" fill="#222">A</text>
<circle cx="403.63" cy="556.40" r="0.7" fill="#777"/>
<text x="422.00" y="556.60" font-size="12.2" text-anchor="middle" fill="#222">T</text>
<circle cx="440.38" cy="556.40" r="0.7" fill="#777"/>
<circle cx="458.75" cy="556.40" r="0.7" fill="#777"/>
<circle cx="477.12" cy="556.40" r="0.7" fill="#777"/>
<text x="54.61" y="556.60" font-size="12.2" text-anchor="middle" fill="#222">A</text>
<text x="72.97" y="556.60" font-size="12.2" text-anchor="middle" fill="#222">T</text>
<text x="91.34" y="556.60" font-size="12.2" text-anchor="middle" fill="#222">G</text>
<text x="109.72" y="556.60" font-size="12.2" text-anchor="middle" fill="#222">A</text>
<text x="550.80" y="557.90" font-size="14.7" font-weight="bold" text-anchor="middle">135</text>
<rect x="118.90" y="561.40" width="18.37" height="18.40" fill="#ef9099" />
<rect x="155.64" y="561.40" width="18.37" height="18.40" fill="#a6c871" />
<rect x="192.38" y="561.40" width="18.37" height="18.40" fill="#ef9099" />
<rect x="265.86" y="561.40" width="18.37" height="18.80" fill="#a6c871" />
<rect x="320.97" y="561.40" width="18.37" height="18.40" fill="#9fcbee" />
<rect x="394.45" y="561.40" width="18.37" height="18.40" fill="#ef9099" />
<rect x="431.19" y="561.40" width="18.37" height="18.80" fill="#a6c871" />
<text x="128.09" y="575.00" font-size="12.2" text-anchor="middle" fill="#222">A</text>
<circle cx="146.46" cy="574.80" r="0.7" fill="#777"/>
<text x="164.83" y="575.00" font-size="12.2" text-anchor="middle" fill="#222">T</text>
<circle cx="183.19" cy="574.80" r="0.7" fill="#777"/>
<text x="201.56" y="575.00" font-size="12.2" text-anchor="middle" fill="#222">A</text>
<circle cx="219.94" cy="574.80" r="0.7" fill="#777"/>
<circle cx="238.31" cy="574.80" r="0.7" fill="#777"/>
<circle cx="256.68" cy="574.80" r="0.7" fill="#777"/>
<text x="275.05" y="575.00" font-size="12.2" text-anchor="middle" fill="#222">T</text>
<circle cx="293.42" cy="574.80" r="0.7" fill="#777"/>
<circle cx="311.79" cy="574.80" r="0.7" fill="#777"/>
<text x="330.16" y="575.00" font-size="12.2" text-anchor="middle" fill="#222">C</text>
<circle cx="348.52" cy="574.80" r="0.7" fill="#777"/>
<circle cx="366.89" cy="574.80" r="0.7" fill="#777"/>
<circle cx="385.26" cy="574.80" r="0.7" fill="#777"/>
<text x="403.63" y="575.00" font-size="12.2" text-anchor="middle" fill="#222">A</text>
<circle cx="422.00" cy="574.80" r="0.7" fill="#777"/>
<text x="440.38" y="575.00" font-size="12.2" text-anchor="middle" fill="#222">T</text>
<circle cx="458.75" cy="574.80" r="0.7" fill="#777"/>
<circle cx="477.12" cy="574.80" r="0.7" fill="#777"/>
<text x="54.61" y="575.00" font-size="12.2" text-anchor="middle" fill="#222">G</text>
<text x="72.97" y="575.00" font-size="12.2" text-anchor="middle" fill="#222">T</text>
<text x="91.34" y="575.00" font-size="12.2" text-anchor="middle" fill="#222">G</text>
<text x="109.72" y="575.00" font-size="12.2" text-anchor="middle" fill="#222">A</text>
<text x="550.80" y="576.30" font-size="14.7" font-weight="bold" text-anchor="middle">132</text>
<rect x="137.27" y="579.80" width="18.37" height="18.40" fill="#f5a85f" />
<rect x="174.01" y="579.80" width="18.37" height="18.40" fill="#ef9099" />
<rect x="265.86" y="579.80" width="18.77" height="18.40" fill="#ef9099" />
<rect x="284.23" y="579.80" width="18.37" height="18.40" fill="#f5a85f" />
<rect x="357.71" y="579.80" width="18.37" height="18.40" fill="#9fcbee" />
<rect x="431.19" y="579.80" width="18.77" height="18.40" fill="#f5a85f" />
<rect x="449.56" y="579.80" width="18.37" height="18.40" fill="#ef9099" />
<circle cx="128.09" cy="593.20" r="0.7" fill="#777"/>
<text x="146.46" y="593.40" font-size="12.2" text-anchor="middle" fill="#222">G</text>
<circle cx="164.83" cy="593.20" r="0.7" fill="#777"/>
<text x="183.19" y="593.40" font-size="12.2" text-anchor="middle" fill="#222">A</text>
<circle cx="201.56" cy="593.20" r="0.7" fill="#777"/>
<circle cx="219.94" cy="593.20" r="0.7" fill="#777"/>
<circle cx="238.31" cy="593.20" r="0.7" fill="#777"/>
<circle cx="256.68" cy="593.20" r="0.7" fill="#777"/>
<text x="275.05" y="593.40" font-size="12.2" text-anchor="middle" fill="#222">A</text>
<text x="293.42" y="593.40" font-size="12.2" text-anchor="middle" fill="#222">G</text>
<circle cx="311.79" cy="593.20" r="0.7" fill="#777"/>
<circle cx="330.16" cy="593.20" r="0.7" fill="#777"/>
<circle cx="348.52" cy="593.20" r="0.7" fill="#777"/>
<text x="366.89" y="593.40" font-size="12.2" text-anchor="middle" fill="#222">C</text>
<circle cx="385.26" cy="593.20" r="0.7" fill="#777"/>
<circle cx="403.63" cy="593.20" r="0.7" fill="#777"/>
<circle cx="422.00" cy="593.20" r="0.7" fill="#777"/>
<text x="440.38" y="593.40" font-size="12.2" text-anchor="middle" fill="#222">G</text>
<text x="458.75" y="593.40" font-size="12.2" text-anchor="middle" fill="#222">A</text>
<circle cx="477.12" cy="593.20" r="0.7" fill="#777"/>
<text x="54.61" y="593.40" font-size="12.2" text-anchor="middle" fill="#222">G</text>
<text x="72.97" y="593.40" font-size="12.2" text-anchor="middle" fill="#222">A</text>
<text x="91.34" y="593.40" font-size="12.2" text-anchor="middle" fill="#222">T</text>
<text x="109.72" y="593.40" font-size="12.2" text-anchor="middle" fill="#222">G</text>
<text x="550.80" y="594.70" font-size="14.7" font-weight="bold" text-anchor="middle">103</text>
<text x="27.70" y="629.40" font-size="14.7" font-weight="bold">&gt;Treat with CasMINI V3.1</text>
<text x="82.30" y="648.40" font-size="14.7" font-weight="bold" text-anchor="middle">PAM</text>
<text x="302.20" y="648.40" font-size="14.7" font-weight="bold" text-anchor="middle">20-bp target site</text>
<text x="550.50" y="646.70" font-size="14.7" font-weight="bold" text-anchor="middle">GUIDE-Seq</text>
<text x="550.80" y="663.60" font-size="14.7" font-weight="bold" text-anchor="middle">reads</text>
<text x="120.10" y="664.30" font-size="11.3">1</text>
<text x="285.43" y="664.30" font-size="11.3">10</text>
<text x="468.13" y="664.30" font-size="11.3">20</text>
<rect x="118.90" y="667.20" width="18.77" height="18.40" fill="#f5a85f" />
<rect x="137.27" y="667.20" width="18.77" height="18.40" fill="#ef9099" />
<rect x="155.64" y="667.20" width="18.77" height="18.80" fill="#f5a85f" />
<rect x="174.01" y="667.20" width="18.77" height="18.40" fill="#f5a85f" />
<rect x="192.38" y="667.20" width="18.77" height="18.40" fill="#f5a85f" />
<rect x="210.75" y="667.20" width="18.77" height="18.40" fill="#ef9099" />
<rect x="229.12" y="667.20" width="18.77" height="18.40" fill="#f5a85f" />
<rect x="247.49" y="667.20" width="18.77" height="18.80" fill="#ef9099" />
<rect x="265.86" y="667.20" width="18.77" height="18.40" fill="#9fcbee" />
<rect x="284.23" y="667.20" width="18.77" height="18.80" fill="#ef9099" />
<rect x="302.60" y="667.20" width="18.77" height="18.40" fill="#9fcbee" />
<rect x="320.97" y="667.20" width="18.77" height="18.40" fill="#ef9099" />
<rect x="339.34" y="667.20" width="18.77" height="18.80" fill="#ef9099" />
<rect x="357.71" y="667.20" width="18.77" height="18.80" fill="#f5a85f" />
<rect x="376.08" y="667.20" width="18.77" height="18.80" fill="#a6c871" />
<rect x="394.45" y="667.20" width="18.77" height="18.40" fill="#a6c871" />
<rect x="412.82" y="667.20" width="18.77" height="18.40" fill="#f5a85f" />
<rect x="431.19" y="667.20" width="18.77" height="18.80" fill="#ef9099" />
<rect x="449.56" y="667.20" width="18.77" height="18.40" fill="#a6c871" />
<rect x="467.93" y="667.20" width="18.37" height="18.40" fill="#ef9099" />
<text x="128.09" y="680.80" font-size="12.2" text-anchor="middle" fill="#222">G</text>
<text x="146.46" y="680.80" font-size="12.2" text-anchor="middle" fill="#222">A</text>
<text x="164.83" y="680.80" font-size="12.2" text-anchor="middle" fill="#222">G</text>
<text x="183.19" y="680.80" font-size="12.2" text-anchor="middle" fill="#222">G</text>
<text x="201.56" y="680.80" font-size="12.2" text-anchor="middle" fill="#222">G</text>
<text x="219.94" y="680.80" font-size="12.2" text-anchor="middle" fill="#222">A</text>
<text x="238.31" y="680.80" font-size="12.2" text-anchor="middle" fill="#222">G</text>
<text x="256.68" y="680.80" font-size="12.2" text-anchor="middle" fill="#222">A</text>
<text x="275.05" y="680.80" font-size="12.2" text-anchor="middle" fill="#222">C</text>
<text x="293.42" y="680.80" font-size="12.2" text-anchor="middle" fill="#222">A</text>
<text x="311.79" y="680.80" font-size="12.2" text-anchor="middle" fill="#222">C</text>
<text x="330.16" y="680.80" font-size="12.2" text-anchor="middle" fill="#222">A</text>
<text x="348.52" y="680.80" font-size="12.2" text-anchor="middle" fill="#222">A</text>
<text x="366.89" y="680.80" font-size="12.2" text-anchor="middle" fill="#222">G</text>
<text x="385.26" y="680.80" font-size="12.2" text-anchor="middle" fill="#222">T</text>
<text x="403.63" y="680.80" font-size="12.2" text-anchor="middle" fill="#222">T</text>
<text x="422.00" y="680.80" font-size="12.2" text-anchor="middle" fill="#222">G</text>
<text x="440.38" y="680.80" font-size="12.2" text-anchor="middle" fill="#222">A</text>
<text x="458.75" y="680.80" font-size="12.2" text-anchor="middle" fill="#222">T</text>
<text x="477.12" y="680.80" font-size="12.2" text-anchor="middle" fill="#222">A</text>
<text x="54.61" y="680.80" font-size="12.2" text-anchor="middle" fill="#222">T</text>
<text x="72.97" y="680.80" font-size="12.2" text-anchor="middle" fill="#222">T</text>
<text x="91.34" y="680.80" font-size="12.2" text-anchor="middle" fill="#222">T</text>
<text x="109.72" y="680.80" font-size="12.2" text-anchor="middle" fill="#222">A</text>
<rect x="155.64" y="685.60" width="18.37" height="18.80" fill="#9fcbee" />
<rect x="247.49" y="685.60" width="18.37" height="18.80" fill="#a6c871" />
<rect x="284.23" y="685.60" width="18.37" height="18.40" fill="#a6c871" />
<rect x="339.34" y="685.60" width="18.77" height="18.40" fill="#9fcbee" />
<rect x="357.71" y="685.60" width="18.77" height="18.40" fill="#9fcbee" />
<rect x="376.08" y="685.60" width="18.37" height="18.40" fill="#9fcbee" />
<rect x="431.19" y="685.60" width="18.37" height="18.40" fill="#a6c871" />
<circle cx="128.09" cy="699.00" r="0.7" fill="#777"/>
<circle cx="146.46" cy="699.00" r="0.7" fill="#777"/>
<text x="164.83" y="699.20" font-size="12.2" text-anchor="middle" fill="#222">C</text>
<circle cx="183.19" cy="699.00" r="0.7" fill="#777"/>
<circle cx="201.56" cy="699.00" r="0.7" fill="#777"/>
<circle cx="219.94" cy="699.00" r="0.7" fill="#777"/>
<circle cx="238.31" cy="699.00" r="0.7" fill="#777"/>
<text x="256.68" y="699.20" font-size="12.2" text-anchor="middle" fill="#222">T</text>
<circle cx="275.05" cy="699.00" r="0.7" fill="#777"/>
<text x="293.42" y="699.20" font-size="12.2" text-anchor="middle" fill="#222">T</text>
<circle cx="311.79" cy="699.00" r="0.7" fill="#777"/>
<circle cx="330.16" cy="699.00" r="0.7" fill="#777"/>
<text x="348.52" y="699.20" font-size="12.2" text-anchor="middle" fill="#222">C</text>
<text x="366.89" y="699.20" font-size="12.2" text-anchor="middle" fill="#222">C</text>
<text x="385.26" y="699.20" font-size="12.2" text-anchor="middle" fill="#222">C</text>
<circle cx="403.63" cy="699.00" r="0.7" fill="#777"/>
<circle cx="422.00" cy="699.00" r="0.7" fill="#777"/>
<text x="440.38" y="699.20" font-size="12.2" text-anchor="middle" fill="#222">T</text>
<circle cx="458.75" cy="699.00" r="0.7" fill="#777"/>
<circle cx="477.12" cy="699.00" r="0.7" fill="#777"/>
<text x="54.61" y="699.20" font-size="12.2" text-anchor="middle" fill="#222">T</text>
<text x="72.97" y="699.20" font-size="12.2" text-anchor="middle" fill="#222">G</text>
<text x="91.34" y="699.20" font-size="12.2" text-anchor="middle" fill="#222">G</text>
<text x="109.72" y="699.20" font-size="12.2" text-anchor="middle" fill="#222">A</text>
<rect x="118.90" y="704.00" width="18.37" height="16.50" fill="#a6c871" />
<rect x="155.64" y="704.00" width="18.37" height="16.50" fill="#9fcbee" />
<rect x="210.75" y="704.00" width="18.37" height="16.50" fill="#f5a85f" />
<rect x="247.49" y="704.00" width="18.37" height="16.50" fill="#f5a85f" />
<rect x="449.56" y="704.00" width="18.77" height="16.10" fill="#ef9099" />
<rect x="467.93" y="704.00" width="18.37" height="16.10" fill="#f5a85f" />
<text x="128.09" y="716.45" font-size="12.2" text-anchor="middle" fill="#222">T</text>
<circle cx="146.46" cy="716.25" r="0.7" fill="#777"/>
<text x="164.83" y="716.45" font-size="12.2" text-anchor="middle" fill="#222">C</text>
<circle cx="183.19" cy="716.25" r="0.7" fill="#777"/>
<circle cx="201.56" cy="716.25" r="0.7" fill="#777"/>
<text x="219.94" y="716.45" font-size="12.2" text-anchor="middle" fill="#222">G</text>
<circle cx="238.31" cy="716.25" r="0.7" fill="#777"/>
<text x="256.68" y="716.45" font-size="12.2" text-anchor="middle" fill="#222">G</text>
<circle cx="275.05" cy="716.25" r="0.7" fill="#777"/>
<circle cx="293.42" cy="716.25" r="0.7" fill="#777"/>
<circle cx="311.79" cy="716.25" r="0.7" fill="#777"/>
<circle cx="330.16" cy="716.25" r="0.7" fill="#777"/>
<circle cx="348.52" cy="716.25" r="0.7" fill="#777"/>
<circle cx="366.89" cy="716.25" r="0.7" fill="#777"/>
<circle cx="385.26" cy="716.25" r="0.7" fill="#777"/>
<circle cx="403.63" cy="716.25" r="0.7" fill="#777"/>
<circle cx="422.00" cy="716.25" r="0.7" fill="#777"/>
<circle cx="440.38" cy="716.25" r="0.7" fill="#777"/>
<text x="458.75" y="716.45" font-size="12.2" text-anchor="middle" fill="#222">A</text>
<text x="477.12" y="716.45" font-size="12.2" text-anchor="middle" fill="#222">G</text>
<text x="54.61" y="716.45" font-size="12.2" text-anchor="middle" fill="#222">G</text>
<text x="72.97" y="716.45" font-size="12.2" text-anchor="middle" fill="#222">G</text>
<text x="91.34" y="716.45" font-size="12.2" text-anchor="middle" fill="#222">A</text>
<text x="109.72" y="716.45" font-size="12.2" text-anchor="middle" fill="#222">G</text>
<rect x="118.90" y="720.10" width="18.37" height="16.10" fill="#a6c871" />
<rect x="155.64" y="720.10" width="18.37" height="16.10" fill="#9fcbee" />
<rect x="210.75" y="720.10" width="18.37" height="16.10" fill="#f5a85f" />
<rect x="247.49" y="720.10" width="18.37" height="16.10" fill="#f5a85f" />
<text x="128.09" y="732.55" font-size="12.2" text-anchor="middle" fill="#222">T</text>
<circle cx="146.46" cy="732.35" r="0.7" fill="#777"/>
<text x="164.83" y="732.55" font-size="12.2" text-anchor="middle" fill="#222">C</text>
<circle cx="183.19" cy="732.35" r="0.7" fill="#777"/>
<circle cx="201.56" cy="732.35" r="0.7" fill="#777"/>
<text x="219.94" y="732.55" font-size="12.2" text-anchor="middle" fill="#222">G</text>
<circle cx="238.31" cy="732.35" r="0.7" fill="#777"/>
<text x="256.68" y="732.55" font-size="12.2" text-anchor="middle" fill="#222">G</text>
<circle cx="275.05" cy="732.35" r="0.7" fill="#777"/>
<circle cx="293.42" cy="732.35" r="0.7" fill="#777"/>
<circle cx="311.79" cy="732.35" r="0.7" fill="#777"/>
<circle cx="330.16" cy="732.35" r="0.7" fill="#777"/>
<circle cx="348.52" cy="732.35" r="0.7" fill="#777"/>
<circle cx="366.89" cy="732.35" r="0.7" fill="#777"/>
<circle cx="385.26" cy="732.35" r="0.7" fill="#777"/>
<circle cx="403.63" cy="732.35" r="0.7" fill="#777"/>
<circle cx="422.00" cy="732.35" r="0.7" fill="#777"/>
<circle cx="440.38" cy="732.35" r="0.7" fill="#777"/>
<line x1="457.14" y1="730.15" x2="460.35" y2="730.15" stroke="#333" stroke-width="0.9" />
<circle cx="477.12" cy="732.35" r="0.7" fill="#777"/>
<text x="54.61" y="732.55" font-size="12.2" text-anchor="middle" fill="#222">G</text>
<text x="72.97" y="732.55" font-size="12.2" text-anchor="middle" fill="#222">G</text>
<text x="91.34" y="732.55" font-size="12.2" text-anchor="middle" fill="#222">A</text>
<text x="109.72" y="732.55" font-size="12.2" text-anchor="middle" fill="#222">G</text>
<text x="550.80" y="682.10" font-size="14.7" font-weight="bold" text-anchor="middle">45455</text>
<text x="550.80" y="700.30" font-size="14.7" font-weight="bold" text-anchor="middle">660</text>
<text x="550.80" y="725.30" font-size="14.7" font-weight="bold" text-anchor="middle">463</text>
<text x="27.70" y="767.10" font-size="14.7" font-weight="bold">&gt;Treat with SpCas9</text>
<text x="247.40" y="786.20" font-size="14.7" font-weight="bold" text-anchor="middle">20-bp target site</text>
<text x="459.00" y="786.20" font-size="14.7" font-weight="bold" text-anchor="middle">PAM</text>
<text x="550.50" y="784.50" font-size="14.7" font-weight="bold" text-anchor="middle">GUIDE-Seq</text>
<text x="550.80" y="801.40" font-size="14.7" font-weight="bold" text-anchor="middle">reads</text>
<text x="64.70" y="802.10" font-size="11.3">1</text>
<text x="230.03" y="802.10" font-size="11.3">10</text>
<text x="412.73" y="802.10" font-size="11.3">20</text>
<rect x="63.50" y="805.00" width="18.77" height="18.40" fill="#f5a85f" />
<rect x="81.87" y="805.00" width="18.77" height="18.40" fill="#ef9099" />
<rect x="100.24" y="805.00" width="18.77" height="18.80" fill="#f5a85f" />
<rect x="118.61" y="805.00" width="18.77" height="18.40" fill="#f5a85f" />
<rect x="136.98" y="805.00" width="18.77" height="18.40" fill="#f5a85f" />
<rect x="155.35" y="805.00" width="18.77" height="18.40" fill="#ef9099" />
<rect x="173.72" y="805.00" width="18.77" height="18.40" fill="#f5a85f" />
<rect x="192.09" y="805.00" width="18.77" height="18.80" fill="#ef9099" />
<rect x="210.46" y="805.00" width="18.77" height="18.40" fill="#9fcbee" />
<rect x="228.83" y="805.00" width="18.77" height="18.80" fill="#ef9099" />
<rect x="247.20" y="805.00" width="18.77" height="18.40" fill="#9fcbee" />
<rect x="265.57" y="805.00" width="18.77" height="18.40" fill="#ef9099" />
<rect x="283.94" y="805.00" width="18.77" height="18.80" fill="#ef9099" />
<rect x="302.31" y="805.00" width="18.77" height="18.80" fill="#f5a85f" />
<rect x="320.68" y="805.00" width="18.77" height="18.80" fill="#a6c871" />
<rect x="339.05" y="805.00" width="18.77" height="18.40" fill="#a6c871" />
<rect x="357.42" y="805.00" width="18.77" height="18.40" fill="#f5a85f" />
<rect x="375.79" y="805.00" width="18.77" height="18.80" fill="#ef9099" />
<rect x="394.16" y="805.00" width="18.77" height="18.40" fill="#a6c871" />
<rect x="412.53" y="805.00" width="18.37" height="18.40" fill="#ef9099" />
<text x="72.69" y="818.60" font-size="12.2" text-anchor="middle" fill="#222">G</text>
<text x="91.06" y="818.60" font-size="12.2" text-anchor="middle" fill="#222">A</text>
<text x="109.43" y="818.60" font-size="12.2" text-anchor="middle" fill="#222">G</text>
<text x="127.80" y="818.60" font-size="12.2" text-anchor="middle" fill="#222">G</text>
<text x="146.17" y="818.60" font-size="12.2" text-anchor="middle" fill="#222">G</text>
<text x="164.54" y="818.60" font-size="12.2" text-anchor="middle" fill="#222">A</text>
<text x="182.91" y="818.60" font-size="12.2" text-anchor="middle" fill="#222">G</text>
<text x="201.28" y="818.60" font-size="12.2" text-anchor="middle" fill="#222">A</text>
<text x="219.65" y="818.60" font-size="12.2" text-anchor="middle" fill="#222">C</text>
<text x="238.02" y="818.60" font-size="12.2" text-anchor="middle" fill="#222">A</text>
<text x="256.38" y="818.60" font-size="12.2" text-anchor="middle" fill="#222">C</text>
<text x="274.75" y="818.60" font-size="12.2" text-anchor="middle" fill="#222">A</text>
<text x="293.12" y="818.60" font-size="12.2" text-anchor="middle" fill="#222">A</text>
<text x="311.50" y="818.60" font-size="12.2" text-anchor="middle" fill="#222">G</text>
<text x="329.87" y="818.60" font-size="12.2" text-anchor="middle" fill="#222">T</text>
<text x="348.24" y="818.60" font-size="12.2" text-anchor="middle" fill="#222">T</text>
<text x="366.61" y="818.60" font-size="12.2" text-anchor="middle" fill="#222">G</text>
<text x="384.98" y="818.60" font-size="12.2" text-anchor="middle" fill="#222">A</text>
<text x="403.35" y="818.60" font-size="12.2" text-anchor="middle" fill="#222">T</text>
<text x="421.72" y="818.60" font-size="12.2" text-anchor="middle" fill="#222">A</text>
<text x="440.09" y="818.60" font-size="12.2" text-anchor="middle" fill="#222">G</text>
<text x="458.46" y="818.60" font-size="12.2" text-anchor="middle" fill="#222">G</text>
<text x="476.83" y="818.60" font-size="12.2" text-anchor="middle" fill="#222">G</text>
<text x="550.80" y="819.90" font-size="14.7" font-weight="bold" text-anchor="middle">290510</text>
<rect x="100.24" y="823.40" width="18.37" height="18.40" fill="#9fcbee" />
<rect x="192.09" y="823.40" width="18.37" height="18.40" fill="#a6c871" />
<rect x="228.83" y="823.40" width="18.37" height="18.40" fill="#a6c871" />
<rect x="283.94" y="823.40" width="18.77" height="18.40" fill="#9fcbee" />
<rect x="302.31" y="823.40" width="18.77" height="18.40" fill="#9fcbee" />
<rect x="320.68" y="823.40" width="18.37" height="18.40" fill="#9fcbee" />
<rect x="375.79" y="823.40" width="18.37" height="18.40" fill="#a6c871" />
<circle cx="72.69" cy="836.80" r="0.7" fill="#777"/>
<circle cx="91.06" cy="836.80" r="0.7" fill="#777"/>
<text x="109.43" y="837.00" font-size="12.2" text-anchor="middle" fill="#222">C</text>
<circle cx="127.80" cy="836.80" r="0.7" fill="#777"/>
<circle cx="146.17" cy="836.80" r="0.7" fill="#777"/>
<circle cx="164.54" cy="836.80" r="0.7" fill="#777"/>
<circle cx="182.91" cy="836.80" r="0.7" fill="#777"/>
<text x="201.28" y="837.00" font-size="12.2" text-anchor="middle" fill="#222">T</text>
<circle cx="219.65" cy="836.80" r="0.7" fill="#777"/>
<text x="238.02" y="837.00" font-size="12.2" text-anchor="middle" fill="#222">T</text>
<circle cx="256.38" cy="836.80" r="0.7" fill="#777"/>
<circle cx="274.75" cy="836.80" r="0.7" fill="#777"/>
<text x="293.12" y="837.00" font-size="12.2" text-anchor="middle" fill="#222">C</text>
<text x="311.50" y="837.00" font-size="12.2" text-anchor="middle" fill="#222">C</text>
<text x="329.87" y="837.00" font-size="12.2" text-anchor="middle" fill="#222">C</text>
<circle cx="348.24" cy="836.80" r="0.7" fill="#777"/>
<circle cx="366.61" cy="836.80" r="0.7" fill="#777"/>
<text x="384.98" y="837.00" font-size="12.2" text-anchor="middle" fill="#222">T</text>
<circle cx="403.35" cy="836.80" r="0.7" fill="#777"/>
<circle cx="421.72" cy="836.80" r="0.7" fill="#777"/>
<text x="440.09" y="837.00" font-size="12.2" text-anchor="middle" fill="#222">C</text>
<text x="458.46" y="837.00" font-size="12.2" text-anchor="middle" fill="#222">C</text>
<text x="476.83" y="837.00" font-size="12.2" text-anchor="middle" fill="#222">C</text>
<text x="550.80" y="838.30" font-size="14.7" font-weight="bold" text-anchor="middle">7767</text>
</g>
<g id="panelD">
<rect x="715.30" y="435.40" width="15.70" height="100.90" fill="#f94144" />
<line x1="715.30" y1="435.40" x2="715.30" y2="536.30" stroke="#000" stroke-width="1.55" />
<line x1="731.00" y1="435.40" x2="731.00" y2="536.30" stroke="#000" stroke-width="1.55" />
<rect x="715.30" y="328.95" width="15.70" height="90.15" fill="#f94144" />
<path d="M715.30 419.10 V328.95 H731.00 V419.10" fill="none" stroke="#000" stroke-width="1.55"/>
<rect x="741.30" y="438.58" width="15.70" height="97.72" fill="#589ff5" />
<path d="M741.30 536.30 V438.58 H757.00 V536.30" fill="none" stroke="#000" stroke-width="1.55"/>
<rect x="785.00" y="435.40" width="15.70" height="100.90" fill="#f94144" />
<line x1="785.00" y1="435.40" x2="785.00" y2="536.30" stroke="#000" stroke-width="1.55" />
<line x1="800.70" y1="435.40" x2="800.70" y2="536.30" stroke="#000" stroke-width="1.55" />
<rect x="785.00" y="411.52" width="15.70" height="7.58" fill="#f94144" />
<path d="M785.00 419.10 V411.52 H800.70 V419.10" fill="none" stroke="#000" stroke-width="1.55"/>
<rect x="811.00" y="498.12" width="15.70" height="38.18" fill="#589ff5" />
<path d="M811.00 536.30 V498.12 H826.70 V536.30" fill="none" stroke="#000" stroke-width="1.55"/>
<rect x="854.70" y="435.40" width="15.70" height="100.90" fill="#f94144" />
<line x1="854.70" y1="435.40" x2="854.70" y2="536.30" stroke="#000" stroke-width="1.55" />
<line x1="870.40" y1="435.40" x2="870.40" y2="536.30" stroke="#000" stroke-width="1.55" />
<rect x="854.70" y="411.18" width="15.70" height="7.92" fill="#f94144" />
<path d="M854.70 419.10 V411.18 H870.40 V419.10" fill="none" stroke="#000" stroke-width="1.55"/>
<rect x="880.70" y="518.97" width="15.70" height="17.33" fill="#589ff5" />
<path d="M880.70 536.30 V518.97 H896.40 V536.30" fill="none" stroke="#000" stroke-width="1.55"/>
<rect x="924.40" y="435.40" width="15.70" height="100.90" fill="#f94144" />
<line x1="924.40" y1="435.40" x2="924.40" y2="536.30" stroke="#000" stroke-width="1.55" />
<line x1="940.10" y1="435.40" x2="940.10" y2="536.30" stroke="#000" stroke-width="1.55" />
<rect x="924.40" y="408.32" width="15.70" height="10.78" fill="#f94144" />
<path d="M924.40 419.10 V408.32 H940.10 V419.10" fill="none" stroke="#000" stroke-width="1.55"/>
<rect x="950.40" y="513.69" width="15.70" height="22.61" fill="#589ff5" />
<path d="M950.40 536.30 V513.69 H966.10 V536.30" fill="none" stroke="#000" stroke-width="1.55"/>
<line x1="706.10" y1="317.00" x2="706.10" y2="420.10" stroke="#000" stroke-width="2" />
<line x1="706.10" y1="434.40" x2="706.10" y2="537.30" stroke="#000" stroke-width="2" />
<line x1="699.50" y1="536.30" x2="975.40" y2="536.30" stroke="#000" stroke-width="2" />
<line x1="700.20" y1="318.00" x2="706.10" y2="318.00" stroke="#000" stroke-width="2" />
<text x="697.40" y="322.90" font-size="13.6" font-weight="bold" text-anchor="end">3.2×10<tspan font-size="9.4" dy="-5.2">5</tspan></text>
<line x1="700.20" y1="351.70" x2="706.10" y2="351.70" stroke="#000" stroke-width="2" />
<text x="697.40" y="356.60" font-size="13.6" font-weight="bold" text-anchor="end">2.2×10<tspan font-size="9.4" dy="-5.2">5</tspan></text>
<line x1="700.20" y1="385.40" x2="706.10" y2="385.40" stroke="#000" stroke-width="2" />
<text x="697.40" y="390.30" font-size="13.6" font-weight="bold" text-anchor="end">1.2×10<tspan font-size="9.4" dy="-5.2">5</tspan></text>
<line x1="700.20" y1="419.10" x2="706.10" y2="419.10" stroke="#000" stroke-width="2" />
<text x="697.40" y="424.00" font-size="13.6" font-weight="bold" text-anchor="end">2×10<tspan font-size="9.4" dy="-5.2">4</tspan></text>
<line x1="700.20" y1="435.82" x2="706.10" y2="435.82" stroke="#000" stroke-width="2" />
<text x="697.40" y="440.72" font-size="13.6" font-weight="bold" text-anchor="end">8×10<tspan font-size="9.4" dy="-5.2">3</tspan></text>
<line x1="700.20" y1="460.94" x2="706.10" y2="460.94" stroke="#000" stroke-width="2" />
<text x="697.40" y="465.84" font-size="13.6" font-weight="bold" text-anchor="end">6×10<tspan font-size="9.4" dy="-5.2">3</tspan></text>
<line x1="700.20" y1="486.06" x2="706.10" y2="486.06" stroke="#000" stroke-width="2" />
<text x="697.40" y="490.96" font-size="13.6" font-weight="bold" text-anchor="end">4×10<tspan font-size="9.4" dy="-5.2">3</tspan></text>
<line x1="700.20" y1="511.18" x2="706.10" y2="511.18" stroke="#000" stroke-width="2" />
<text x="697.40" y="516.08" font-size="13.6" font-weight="bold" text-anchor="end">2×10<tspan font-size="9.4" dy="-5.2">3</tspan></text>
<line x1="700.20" y1="536.30" x2="706.10" y2="536.30" stroke="#000" stroke-width="2" />
<text x="697.40" y="541.00" font-size="13.6" font-weight="bold" text-anchor="end">0</text>
<line x1="735.70" y1="536.30" x2="735.70" y2="542.60" stroke="#000" stroke-width="2" />
<text x="740.20" y="554.50" font-size="13.6" font-weight="bold" text-anchor="end" transform="rotate(-45 740.20 554.50)">SpCas9</text>
<line x1="805.40" y1="536.30" x2="805.40" y2="542.60" stroke="#000" stroke-width="2" />
<text x="809.90" y="554.50" font-size="13.6" font-weight="bold" text-anchor="end" transform="rotate(-45 809.90 554.50)">Un1Cas12f1</text>
<line x1="875.10" y1="536.30" x2="875.10" y2="542.60" stroke="#000" stroke-width="2" />
<text x="879.60" y="554.50" font-size="13.6" font-weight="bold" text-anchor="end" transform="rotate(-45 879.60 554.50)">CasMINI V3.1</text>
<line x1="944.80" y1="536.30" x2="944.80" y2="542.60" stroke="#000" stroke-width="2" />
<text x="949.30" y="554.50" font-size="13.6" font-weight="bold" text-anchor="end" transform="rotate(-45 949.30 554.50)">MiniCasUltra</text>
<text x="639.30" y="424.80" font-size="13.8" font-weight="bold" text-anchor="middle" transform="rotate(-90 639.30 424.80)">GUIDE-Seq reads</text>
<rect x="897.00" y="315.40" width="13.80" height="8.70" fill="#f94144" stroke="#111" stroke-width="1.2" />
<text x="919.70" y="324.30" font-size="13.6" font-weight="bold">On target</text>
<rect x="897.00" y="335.20" width="13.80" height="8.70" fill="#589ff5" stroke="#111" stroke-width="1.2" />
<text x="919.70" y="344.10" font-size="13.6" font-weight="bold">Off target</text>
</g>
<g id="panelE">
<rect x="719.00" y="636.73" width="27.00" height="142.87" fill="#d3d3d3" />
<rect x="719.00" y="636.30" width="27.00" height="0.43" fill="#e8e0b0" />
<rect x="759.30" y="709.81" width="27.00" height="69.79" fill="#d3d3d3" />
<rect x="759.30" y="648.77" width="27.00" height="61.05" fill="#f94144" />
<rect x="759.30" y="637.59" width="27.00" height="11.18" fill="#0bbd78" />
<rect x="759.30" y="636.30" width="27.00" height="1.29" fill="#0000ff" />
<rect x="800.10" y="752.95" width="27.00" height="26.65" fill="#f94144" />
<rect x="800.10" y="638.16" width="27.00" height="114.78" fill="#0bbd78" />
<rect x="800.10" y="636.30" width="27.00" height="1.86" fill="#c6ba00" />
<line x1="705.30" y1="635.50" x2="705.30" y2="780.40" stroke="#000" stroke-width="1.6" />
<line x1="699.00" y1="779.60" x2="840.00" y2="779.60" stroke="#000" stroke-width="1.6" />
<line x1="699.00" y1="779.60" x2="705.30" y2="779.60" stroke="#000" stroke-width="1.6" />
<text x="697.30" y="784.40" font-size="13.6" font-weight="bold" text-anchor="end">0</text>
<line x1="699.00" y1="750.94" x2="705.30" y2="750.94" stroke="#000" stroke-width="1.6" />
<text x="697.30" y="755.74" font-size="13.6" font-weight="bold" text-anchor="end">20</text>
<line x1="699.00" y1="722.28" x2="705.30" y2="722.28" stroke="#000" stroke-width="1.6" />
<text x="697.30" y="727.08" font-size="13.6" font-weight="bold" text-anchor="end">40</text>
<line x1="699.00" y1="693.62" x2="705.30" y2="693.62" stroke="#000" stroke-width="1.6" />
<text x="697.30" y="698.42" font-size="13.6" font-weight="bold" text-anchor="end">60</text>
<line x1="699.00" y1="664.96" x2="705.30" y2="664.96" stroke="#000" stroke-width="1.6" />
<text x="697.30" y="669.76" font-size="13.6" font-weight="bold" text-anchor="end">80</text>
<line x1="699.00" y1="636.30" x2="705.30" y2="636.30" stroke="#000" stroke-width="1.6" />
<text x="697.30" y="641.10" font-size="13.6" font-weight="bold" text-anchor="end">100</text>
<line x1="732.30" y1="779.60" x2="732.30" y2="785.40" stroke="#000" stroke-width="1.6" />
<text x="736.80" y="798.30" font-size="13.6" font-weight="bold" text-anchor="end" transform="rotate(-45 736.80 798.30)">HEK293T</text>
<line x1="772.70" y1="779.60" x2="772.70" y2="785.40" stroke="#000" stroke-width="1.6" />
<text x="777.20" y="798.30" font-size="13.6" font-weight="bold" text-anchor="end" transform="rotate(-45 777.20 798.30)">MiniCasUltra</text>
<line x1="813.00" y1="779.60" x2="813.00" y2="785.40" stroke="#000" stroke-width="1.6" />
<text x="817.50" y="798.30" font-size="13.6" font-weight="bold" text-anchor="end" transform="rotate(-45 817.50 798.30)">SpCas9</text>
<text x="665.00" y="705.00" font-size="13.6" font-weight="bold" text-anchor="middle" transform="rotate(-90 665.00 705.00)">Events %</text>
<rect x="858.30" y="647.00" width="15.30" height="9.20" fill="#0000ff" />
<text x="882.50" y="655.70" font-size="13.6" font-weight="bold">Translocation</text>
<rect x="858.30" y="665.95" width="15.30" height="9.20" fill="#0bbd78" />
<text x="882.50" y="674.65" font-size="13.6" font-weight="bold">Insertion</text>
<rect x="858.30" y="684.90" width="15.30" height="9.20" fill="#f94144" />
<text x="882.50" y="693.60" font-size="13.6" font-weight="bold">Deletion</text>
<rect x="858.30" y="703.85" width="15.30" height="9.20" fill="#c6ba00" />
<text x="882.50" y="712.55" font-size="13.6" font-weight="bold">Inversion</text>
<rect x="858.30" y="722.80" width="15.30" height="9.20" fill="#d3d3d3" />
<text x="882.50" y="731.50" font-size="13.6" font-weight="bold">Wildtype</text>
</g>
<g id="panelF">
<path d="M445.90 1101.30 A198.6 198.6 0 0 1 424.12 1191.73 L414.68 1186.90 A188.0 188.0 0 0 0 435.30 1101.30 Z" fill="#67001f"/>
<path d="M450.40 1101.30 A203.1 203.1 0 0 1 428.12 1193.78" fill="none" stroke="#111" stroke-width="0.6"/>
<line x1="450.40" y1="1101.30" x2="452.20" y2="1101.30" stroke="#111" stroke-width="0.6" />
<text x="453.00" y="1101.30" font-size="2.6" text-anchor="start" transform="rotate(90.00 453.00 1101.30)" dy="0" fill="#111">0MB</text>
<line x1="450.28" y1="1108.24" x2="451.28" y2="1108.27" stroke="#111" stroke-width="0.5" />
<line x1="449.93" y1="1115.17" x2="450.92" y2="1115.24" stroke="#111" stroke-width="0.5" />
<line x1="449.33" y1="1122.09" x2="450.33" y2="1122.19" stroke="#111" stroke-width="0.5" />
<line x1="448.50" y1="1128.98" x2="449.50" y2="1129.12" stroke="#111" stroke-width="0.5" />
<line x1="447.44" y1="1135.84" x2="449.22" y2="1136.15" stroke="#111" stroke-width="0.6" />
<text x="450.00" y="1136.28" font-size="2.6" text-anchor="middle" transform="rotate(-80.21 450.00 1136.28)" dy="2.0" fill="#111">90MB</text>
<line x1="446.14" y1="1142.66" x2="447.12" y2="1142.86" stroke="#111" stroke-width="0.5" />
<line x1="444.61" y1="1149.43" x2="445.59" y2="1149.67" stroke="#111" stroke-width="0.5" />
<line x1="442.85" y1="1156.15" x2="443.82" y2="1156.42" stroke="#111" stroke-width="0.5" />
<line x1="440.87" y1="1162.80" x2="441.82" y2="1163.10" stroke="#111" stroke-width="0.5" />
<line x1="438.65" y1="1169.38" x2="440.35" y2="1169.98" stroke="#111" stroke-width="0.6" />
<text x="441.10" y="1170.25" font-size="2.6" text-anchor="middle" transform="rotate(-70.42 441.10 1170.25)" dy="2.0" fill="#111">180MB</text>
<line x1="436.21" y1="1175.88" x2="437.14" y2="1176.24" stroke="#111" stroke-width="0.5" />
<line x1="433.55" y1="1182.29" x2="434.47" y2="1182.69" stroke="#111" stroke-width="0.5" />
<line x1="430.68" y1="1188.61" x2="431.58" y2="1189.03" stroke="#111" stroke-width="0.5" />
<text x="465.50" y="1157.50" font-size="14" text-anchor="middle" fill="#111">1</text>
<path d="M422.51 1194.80 A198.6 198.6 0 0 1 362.81 1262.86 L356.64 1254.23 A188.0 188.0 0 0 0 413.16 1189.81 Z" fill="#840924"/>
<path d="M426.48 1196.92 A203.1 203.1 0 0 1 365.42 1266.52" fill="none" stroke="#111" stroke-width="0.6"/>
<line x1="426.48" y1="1196.92" x2="428.07" y2="1197.77" stroke="#111" stroke-width="0.6" />
<text x="428.78" y="1198.14" font-size="2.6" text-anchor="end" transform="rotate(-61.91 428.78 1198.14)" dy="2.0" fill="#111">0MB</text>
<line x1="423.11" y1="1202.99" x2="423.98" y2="1203.49" stroke="#111" stroke-width="0.5" />
<line x1="419.53" y1="1208.94" x2="420.38" y2="1209.47" stroke="#111" stroke-width="0.5" />
<line x1="415.75" y1="1214.76" x2="416.58" y2="1215.32" stroke="#111" stroke-width="0.5" />
<line x1="411.78" y1="1220.45" x2="412.59" y2="1221.04" stroke="#111" stroke-width="0.5" />
<line x1="407.61" y1="1226.00" x2="409.03" y2="1227.11" stroke="#111" stroke-width="0.6" />
<text x="409.66" y="1227.60" font-size="2.6" text-anchor="middle" transform="rotate(-52.12 409.66 1227.60)" dy="2.0" fill="#111">90MB</text>
<line x1="403.26" y1="1231.41" x2="404.02" y2="1232.05" stroke="#111" stroke-width="0.5" />
<line x1="398.72" y1="1236.66" x2="399.46" y2="1237.33" stroke="#111" stroke-width="0.5" />
<line x1="394.00" y1="1241.76" x2="394.73" y2="1242.45" stroke="#111" stroke-width="0.5" />
<line x1="389.12" y1="1246.69" x2="389.82" y2="1247.40" stroke="#111" stroke-width="0.5" />
<line x1="384.07" y1="1251.45" x2="385.28" y2="1252.78" stroke="#111" stroke-width="0.6" />
<text x="385.82" y="1253.37" font-size="2.6" text-anchor="middle" transform="rotate(-42.33 385.82 1253.37)" dy="2.0" fill="#111">180MB</text>
<line x1="378.86" y1="1256.03" x2="379.50" y2="1256.80" stroke="#111" stroke-width="0.5" />
<line x1="373.49" y1="1260.44" x2="374.11" y2="1261.22" stroke="#111" stroke-width="0.5" />
<line x1="367.98" y1="1264.66" x2="368.57" y2="1265.46" stroke="#111" stroke-width="0.5" />
<text x="419.30" y="1259.80" font-size="14" text-anchor="middle" fill="#111">2</text>
<path d="M359.97 1264.85 A198.6 198.6 0 0 1 291.94 1294.82 L289.56 1284.49 A188.0 188.0 0 0 0 353.96 1256.12 Z" fill="#a21328"/>
<path d="M362.52 1268.55 A203.1 203.1 0 0 1 292.95 1299.20" fill="none" stroke="#111" stroke-width="0.6"/>
<line x1="362.52" y1="1268.55" x2="363.54" y2="1270.03" stroke="#111" stroke-width="0.6" />
<text x="364.00" y="1270.69" font-size="2.6" text-anchor="end" transform="rotate(-34.56 364.00 1270.69)" dy="2.0" fill="#111">0MB</text>
<line x1="356.74" y1="1272.39" x2="357.28" y2="1273.23" stroke="#111" stroke-width="0.5" />
<line x1="350.83" y1="1276.03" x2="351.34" y2="1276.89" stroke="#111" stroke-width="0.5" />
<line x1="344.80" y1="1279.47" x2="345.28" y2="1280.35" stroke="#111" stroke-width="0.5" />
<line x1="338.65" y1="1282.70" x2="339.10" y2="1283.59" stroke="#111" stroke-width="0.5" />
<line x1="332.40" y1="1285.71" x2="333.15" y2="1287.35" stroke="#111" stroke-width="0.6" />
<text x="333.49" y="1288.07" font-size="2.6" text-anchor="middle" transform="rotate(-24.77 333.49 1288.07)" dy="2.0" fill="#111">90MB</text>
<line x1="326.05" y1="1288.51" x2="326.44" y2="1289.43" stroke="#111" stroke-width="0.5" />
<line x1="319.60" y1="1291.09" x2="319.96" y2="1292.03" stroke="#111" stroke-width="0.5" />
<line x1="313.08" y1="1293.45" x2="313.40" y2="1294.40" stroke="#111" stroke-width="0.5" />
<line x1="306.47" y1="1295.59" x2="306.76" y2="1296.55" stroke="#111" stroke-width="0.5" />
<line x1="299.80" y1="1297.50" x2="300.26" y2="1299.24" stroke="#111" stroke-width="0.6" />
<text x="300.47" y="1300.01" font-size="2.6" text-anchor="middle" transform="rotate(-14.98 300.47 1300.01)" dy="2.0" fill="#111">180MB</text>
<line x1="293.06" y1="1299.18" x2="293.29" y2="1300.15" stroke="#111" stroke-width="0.5" />
<text x="341.50" y="1311.00" font-size="14" text-anchor="middle" fill="#111">3</text>
<path d="M288.55 1295.57 A198.6 198.6 0 0 1 217.24 1297.61 L218.84 1287.13 A188.0 188.0 0 0 0 286.35 1285.20 Z" fill="#b82531"/>
<path d="M289.49 1299.97 A203.1 203.1 0 0 1 216.56 1302.06" fill="none" stroke="#111" stroke-width="0.6"/>
<line x1="289.49" y1="1299.97" x2="289.86" y2="1301.73" stroke="#111" stroke-width="0.6" />
<text x="290.03" y="1302.51" font-size="2.6" text-anchor="end" transform="rotate(-11.99 290.03 1302.51)" dy="2.0" fill="#111">0MB</text>
<line x1="282.67" y1="1301.30" x2="282.85" y2="1302.28" stroke="#111" stroke-width="0.5" />
<line x1="275.82" y1="1302.39" x2="275.96" y2="1303.38" stroke="#111" stroke-width="0.5" />
<line x1="268.93" y1="1303.24" x2="269.04" y2="1304.24" stroke="#111" stroke-width="0.5" />
<line x1="262.02" y1="1303.87" x2="262.09" y2="1304.86" stroke="#111" stroke-width="0.5" />
<line x1="255.09" y1="1304.25" x2="255.16" y2="1306.05" stroke="#111" stroke-width="0.6" />
<text x="255.19" y="1306.85" font-size="2.6" text-anchor="middle" transform="rotate(-2.20 255.19 1306.85)" dy="2.0" fill="#111">90MB</text>
<line x1="248.15" y1="1304.40" x2="248.15" y2="1305.40" stroke="#111" stroke-width="0.5" />
<line x1="241.21" y1="1304.31" x2="241.18" y2="1305.31" stroke="#111" stroke-width="0.5" />
<line x1="234.27" y1="1303.98" x2="234.21" y2="1304.98" stroke="#111" stroke-width="0.5" />
<line x1="227.35" y1="1303.42" x2="227.25" y2="1304.41" stroke="#111" stroke-width="0.5" />
<line x1="220.46" y1="1302.62" x2="220.22" y2="1304.40" stroke="#111" stroke-width="0.6" />
<text x="220.11" y="1305.20" font-size="2.6" text-anchor="start" transform="rotate(7.59 220.11 1305.20)" dy="2.0" fill="#111">180MB</text>
<text x="254.00" y="1328.50" font-size="14" text-anchor="middle" fill="#111">4</text>
<path d="M213.82 1297.06 A198.6 198.6 0 0 1 149.63 1274.23 L154.85 1265.00 A188.0 188.0 0 0 0 215.61 1286.61 Z" fill="#c6413e"/>
<path d="M213.06 1301.49 A203.1 203.1 0 0 1 147.42 1278.14" fill="none" stroke="#111" stroke-width="0.6"/>
<line x1="213.06" y1="1301.49" x2="212.76" y2="1303.27" stroke="#111" stroke-width="0.6" />
<text x="212.62" y="1304.06" font-size="2.6" text-anchor="end" transform="rotate(9.71 212.62 1304.06)" dy="2.0" fill="#111">0MB</text>
<line x1="206.24" y1="1300.21" x2="206.04" y2="1301.19" stroke="#111" stroke-width="0.5" />
<line x1="199.47" y1="1298.69" x2="199.23" y2="1299.66" stroke="#111" stroke-width="0.5" />
<line x1="192.75" y1="1296.94" x2="192.48" y2="1297.90" stroke="#111" stroke-width="0.5" />
<line x1="186.09" y1="1294.96" x2="185.79" y2="1295.91" stroke="#111" stroke-width="0.5" />
<line x1="179.51" y1="1292.75" x2="178.91" y2="1294.45" stroke="#111" stroke-width="0.6" />
<text x="178.64" y="1295.20" font-size="2.6" text-anchor="middle" transform="rotate(19.50 178.64 1295.20)" dy="2.0" fill="#111">90MB</text>
<line x1="173.01" y1="1290.33" x2="172.64" y2="1291.26" stroke="#111" stroke-width="0.5" />
<line x1="166.59" y1="1287.68" x2="166.20" y2="1288.59" stroke="#111" stroke-width="0.5" />
<line x1="160.27" y1="1284.81" x2="159.84" y2="1285.71" stroke="#111" stroke-width="0.5" />
<line x1="154.05" y1="1281.73" x2="153.59" y2="1282.62" stroke="#111" stroke-width="0.5" />
<line x1="147.94" y1="1278.44" x2="147.06" y2="1280.01" stroke="#111" stroke-width="0.6" />
<text x="146.67" y="1280.70" font-size="2.6" text-anchor="start" transform="rotate(29.29 146.67 1280.70)" dy="2.0" fill="#111">180MB</text>
<text x="171.50" y="1318.00" font-size="14" text-anchor="middle" fill="#111">5</text>
<path d="M146.63 1272.50 A198.6 198.6 0 0 1 97.32 1231.49 L105.33 1224.54 A188.0 188.0 0 0 0 152.00 1263.36 Z" fill="#d45d4c"/>
<path d="M144.35 1276.37 A203.1 203.1 0 0 1 93.92 1234.44" fill="none" stroke="#111" stroke-width="0.6"/>
<line x1="144.35" y1="1276.37" x2="143.44" y2="1277.93" stroke="#111" stroke-width="0.6" />
<text x="143.03" y="1278.62" font-size="2.6" text-anchor="end" transform="rotate(30.46 143.03 1278.62)" dy="2.0" fill="#111">0MB</text>
<line x1="138.43" y1="1272.75" x2="137.89" y2="1273.60" stroke="#111" stroke-width="0.5" />
<line x1="132.63" y1="1268.93" x2="132.07" y2="1269.76" stroke="#111" stroke-width="0.5" />
<line x1="126.97" y1="1264.92" x2="126.38" y2="1265.72" stroke="#111" stroke-width="0.5" />
<line x1="121.45" y1="1260.71" x2="120.83" y2="1261.49" stroke="#111" stroke-width="0.5" />
<line x1="116.08" y1="1256.32" x2="114.91" y2="1257.69" stroke="#111" stroke-width="0.6" />
<text x="114.40" y="1258.30" font-size="2.6" text-anchor="middle" transform="rotate(40.25 114.40 1258.30)" dy="2.0" fill="#111">90MB</text>
<line x1="110.85" y1="1251.74" x2="110.18" y2="1252.48" stroke="#111" stroke-width="0.5" />
<line x1="105.79" y1="1246.99" x2="105.10" y2="1247.71" stroke="#111" stroke-width="0.5" />
<line x1="100.90" y1="1242.07" x2="100.18" y2="1242.76" stroke="#111" stroke-width="0.5" />
<line x1="96.17" y1="1236.98" x2="95.43" y2="1237.65" stroke="#111" stroke-width="0.5" />
<text x="103.00" y="1281.00" font-size="14" text-anchor="middle" fill="#111">6</text>
<path d="M95.07 1228.85 A198.6 198.6 0 0 1 63.98 1177.69 L73.76 1173.61 A188.0 188.0 0 0 0 103.20 1222.04 Z" fill="#e0785f"/>
<path d="M91.62 1231.74 A203.1 203.1 0 0 1 59.83 1179.42" fill="none" stroke="#111" stroke-width="0.6"/>
<line x1="91.62" y1="1231.74" x2="90.24" y2="1232.90" stroke="#111" stroke-width="0.6" />
<text x="89.63" y="1233.41" font-size="2.6" text-anchor="end" transform="rotate(50.04 89.63 1233.41)" dy="2.0" fill="#111">0MB</text>
<line x1="87.26" y1="1226.34" x2="86.47" y2="1226.96" stroke="#111" stroke-width="0.5" />
<line x1="83.08" y1="1220.80" x2="82.27" y2="1221.39" stroke="#111" stroke-width="0.5" />
<line x1="79.09" y1="1215.12" x2="78.26" y2="1215.68" stroke="#111" stroke-width="0.5" />
<line x1="75.30" y1="1209.30" x2="74.45" y2="1209.84" stroke="#111" stroke-width="0.5" />
<line x1="71.71" y1="1203.36" x2="70.15" y2="1204.27" stroke="#111" stroke-width="0.6" />
<text x="69.46" y="1204.67" font-size="2.6" text-anchor="middle" transform="rotate(59.83 69.46 1204.67)" dy="2.0" fill="#111">90MB</text>
<line x1="68.32" y1="1197.30" x2="67.44" y2="1197.78" stroke="#111" stroke-width="0.5" />
<line x1="65.15" y1="1191.13" x2="64.25" y2="1191.57" stroke="#111" stroke-width="0.5" />
<line x1="62.18" y1="1184.85" x2="61.27" y2="1185.27" stroke="#111" stroke-width="0.5" />
<text x="51.50" y="1225.50" font-size="14" text-anchor="middle" fill="#111">7</text>
<path d="M62.67 1174.48 A198.6 198.6 0 0 1 49.73 1121.48 L60.27 1120.40 A188.0 188.0 0 0 0 72.53 1170.58 Z" fill="#ec9374"/>
<path d="M58.49 1176.14 A203.1 203.1 0 0 1 45.25 1121.93" fill="none" stroke="#111" stroke-width="0.6"/>
<line x1="58.49" y1="1176.14" x2="56.82" y2="1176.80" stroke="#111" stroke-width="0.6" />
<text x="56.07" y="1177.10" font-size="2.6" text-anchor="end" transform="rotate(68.38 56.07 1177.10)" dy="2.0" fill="#111">0MB</text>
<line x1="56.04" y1="1169.64" x2="55.10" y2="1169.98" stroke="#111" stroke-width="0.5" />
<line x1="53.82" y1="1163.07" x2="52.87" y2="1163.37" stroke="#111" stroke-width="0.5" />
<line x1="51.82" y1="1156.42" x2="50.86" y2="1156.69" stroke="#111" stroke-width="0.5" />
<line x1="50.05" y1="1149.71" x2="49.08" y2="1149.95" stroke="#111" stroke-width="0.5" />
<line x1="48.51" y1="1142.94" x2="46.75" y2="1143.31" stroke="#111" stroke-width="0.6" />
<text x="45.97" y="1143.47" font-size="2.6" text-anchor="middle" transform="rotate(78.17 45.97 1143.47)" dy="2.0" fill="#111">90MB</text>
<line x1="47.21" y1="1136.12" x2="46.22" y2="1136.29" stroke="#111" stroke-width="0.5" />
<line x1="46.13" y1="1129.26" x2="45.14" y2="1129.40" stroke="#111" stroke-width="0.5" />
<line x1="45.30" y1="1122.37" x2="44.30" y2="1122.48" stroke="#111" stroke-width="0.5" />
<text x="28.50" y="1161.50" font-size="14" text-anchor="middle" fill="#111">8</text>
<path d="M49.41 1118.03 A198.6 198.6 0 0 1 51.85 1066.04 L62.29 1067.93 A188.0 188.0 0 0 0 59.97 1117.13 Z" fill="#f5ac8b"/>
<path d="M44.92 1118.41 A203.1 203.1 0 0 1 47.43 1065.25" fill="none" stroke="#111" stroke-width="0.6"/>
<line x1="44.92" y1="1118.41" x2="43.13" y2="1118.56" stroke="#111" stroke-width="0.6" />
<text x="42.33" y="1118.62" font-size="2.6" text-anchor="end" transform="rotate(85.17 42.33 1118.62)" dy="2.0" fill="#111">0MB</text>
<line x1="44.46" y1="1111.48" x2="43.46" y2="1111.53" stroke="#111" stroke-width="0.5" />
<line x1="44.23" y1="1104.54" x2="43.23" y2="1104.56" stroke="#111" stroke-width="0.5" />
<line x1="44.23" y1="1097.60" x2="43.23" y2="1097.58" stroke="#111" stroke-width="0.5" />
<line x1="44.48" y1="1090.66" x2="43.48" y2="1090.61" stroke="#111" stroke-width="0.5" />
<line x1="44.96" y1="1083.74" x2="43.17" y2="1083.58" stroke="#111" stroke-width="0.6" />
<text x="42.37" y="1083.51" font-size="2.6" text-anchor="middle" transform="rotate(274.96 42.37 1083.51)" dy="0" fill="#111">90MB</text>
<line x1="45.68" y1="1076.83" x2="44.69" y2="1076.71" stroke="#111" stroke-width="0.5" />
<line x1="46.63" y1="1069.96" x2="45.64" y2="1069.80" stroke="#111" stroke-width="0.5" />
<text x="23.25" y="1097.00" font-size="14" text-anchor="middle" fill="#111">9</text>
<path d="M52.50 1062.64 A198.6 198.6 0 0 1 68.47 1014.92 L78.02 1019.53 A188.0 188.0 0 0 0 62.90 1064.70 Z" fill="#f9c1a6"/>
<path d="M48.09 1061.76 A203.1 203.1 0 0 1 64.42 1012.96" fill="none" stroke="#111" stroke-width="0.6"/>
<line x1="48.09" y1="1061.76" x2="46.32" y2="1061.41" stroke="#111" stroke-width="0.6" />
<text x="45.54" y="1061.26" font-size="2.6" text-anchor="start" transform="rotate(281.23 45.54 1061.26)" dy="0" fill="#111">0MB</text>
<line x1="49.55" y1="1054.98" x2="48.58" y2="1054.75" stroke="#111" stroke-width="0.5" />
<line x1="51.25" y1="1048.25" x2="50.29" y2="1047.99" stroke="#111" stroke-width="0.5" />
<line x1="53.18" y1="1041.58" x2="52.22" y2="1041.28" stroke="#111" stroke-width="0.5" />
<line x1="55.33" y1="1034.98" x2="54.39" y2="1034.65" stroke="#111" stroke-width="0.5" />
<line x1="57.71" y1="1028.46" x2="56.03" y2="1027.81" stroke="#111" stroke-width="0.6" />
<text x="55.28" y="1027.53" font-size="2.6" text-anchor="middle" transform="rotate(291.02 55.28 1027.53)" dy="0" fill="#111">90MB</text>
<line x1="60.31" y1="1022.02" x2="59.39" y2="1021.63" stroke="#111" stroke-width="0.5" />
<line x1="63.13" y1="1015.68" x2="62.22" y2="1015.26" stroke="#111" stroke-width="0.5" />
<text x="28.00" y="1040.50" font-size="14" text-anchor="middle" fill="#111">10</text>
<path d="M70.01 1011.81 A198.6 198.6 0 0 1 98.51 969.76 L106.45 976.78 A188.0 188.0 0 0 0 79.47 1016.59 Z" fill="#fcd6c1"/>
<path d="M65.99 1009.78 A203.1 203.1 0 0 1 95.14 966.77" fill="none" stroke="#111" stroke-width="0.6"/>
<line x1="65.99" y1="1009.78" x2="64.38" y2="1008.97" stroke="#111" stroke-width="0.6" />
<text x="63.67" y="1008.61" font-size="2.6" text-anchor="start" transform="rotate(296.78 63.67 1008.61)" dy="0" fill="#111">0MB</text>
<line x1="69.22" y1="1003.64" x2="68.34" y2="1003.16" stroke="#111" stroke-width="0.5" />
<line x1="72.66" y1="997.61" x2="71.80" y2="997.10" stroke="#111" stroke-width="0.5" />
<line x1="76.31" y1="991.70" x2="75.47" y2="991.16" stroke="#111" stroke-width="0.5" />
<line x1="80.15" y1="985.92" x2="79.33" y2="985.36" stroke="#111" stroke-width="0.5" />
<line x1="84.19" y1="980.28" x2="82.75" y2="979.21" stroke="#111" stroke-width="0.6" />
<text x="82.11" y="978.73" font-size="2.6" text-anchor="middle" transform="rotate(306.57 82.11 978.73)" dy="0" fill="#111">90MB</text>
<line x1="88.42" y1="974.78" x2="87.64" y2="974.15" stroke="#111" stroke-width="0.5" />
<line x1="92.84" y1="969.42" x2="92.08" y2="968.77" stroke="#111" stroke-width="0.5" />
<text x="52.00" y="984.25" font-size="14" text-anchor="middle" fill="#111">11</text>
<path d="M100.83 967.18 A198.6 198.6 0 0 1 139.08 934.78 L144.86 943.66 A188.0 188.0 0 0 0 108.65 974.34 Z" fill="#f4ddcf"/>
<path d="M97.51 964.14 A203.1 203.1 0 0 1 136.63 931.00" fill="none" stroke="#111" stroke-width="0.6"/>
<line x1="97.51" y1="964.14" x2="96.18" y2="962.92" stroke="#111" stroke-width="0.6" />
<text x="95.59" y="962.38" font-size="2.6" text-anchor="start" transform="rotate(312.48 95.59 962.38)" dy="0" fill="#111">0MB</text>
<line x1="102.29" y1="959.10" x2="101.57" y2="958.40" stroke="#111" stroke-width="0.5" />
<line x1="107.23" y1="954.23" x2="106.54" y2="953.50" stroke="#111" stroke-width="0.5" />
<line x1="112.34" y1="949.53" x2="111.67" y2="948.78" stroke="#111" stroke-width="0.5" />
<line x1="117.60" y1="945.00" x2="116.97" y2="944.23" stroke="#111" stroke-width="0.5" />
<line x1="123.02" y1="940.66" x2="121.92" y2="939.24" stroke="#111" stroke-width="0.6" />
<text x="121.43" y="938.61" font-size="2.6" text-anchor="middle" transform="rotate(322.27 121.43 938.61)" dy="0" fill="#111">90MB</text>
<line x1="128.58" y1="936.51" x2="128.00" y2="935.70" stroke="#111" stroke-width="0.5" />
<line x1="134.28" y1="932.55" x2="133.73" y2="931.72" stroke="#111" stroke-width="0.5" />
<text x="93.75" y="936.25" font-size="14" text-anchor="middle" fill="#111">12</text>
<path d="M142.00 932.91 A198.6 198.6 0 0 1 180.75 914.18 L184.31 924.17 A188.0 188.0 0 0 0 147.62 941.90 Z" fill="#e9ded8"/>
<path d="M139.62 929.10 A203.1 203.1 0 0 1 179.25 909.94" fill="none" stroke="#111" stroke-width="0.6"/>
<line x1="139.62" y1="929.10" x2="138.66" y2="927.57" stroke="#111" stroke-width="0.6" />
<text x="138.24" y="926.89" font-size="2.6" text-anchor="start" transform="rotate(327.98 138.24 926.89)" dy="0" fill="#111">0MB</text>
<line x1="145.56" y1="925.52" x2="145.06" y2="924.65" stroke="#111" stroke-width="0.5" />
<line x1="151.63" y1="922.14" x2="151.16" y2="921.26" stroke="#111" stroke-width="0.5" />
<line x1="157.81" y1="918.98" x2="157.37" y2="918.08" stroke="#111" stroke-width="0.5" />
<line x1="164.09" y1="916.03" x2="163.68" y2="915.12" stroke="#111" stroke-width="0.5" />
<line x1="170.47" y1="913.29" x2="169.79" y2="911.63" stroke="#111" stroke-width="0.6" />
<text x="169.49" y="910.89" font-size="2.6" text-anchor="middle" transform="rotate(337.77 169.49 910.89)" dy="0" fill="#111">90MB</text>
<line x1="176.94" y1="910.78" x2="176.59" y2="909.84" stroke="#111" stroke-width="0.5" />
<text x="147.75" y="900.00" font-size="14" text-anchor="middle" fill="#111">13</text>
<path d="M184.03 913.05 A198.6 198.6 0 0 1 223.33 904.15 L224.61 914.67 A188.0 188.0 0 0 0 187.41 923.10 Z" fill="#dddddd"/>
<path d="M182.60 908.78 A203.1 203.1 0 0 1 222.79 899.68" fill="none" stroke="#111" stroke-width="0.6"/>
<line x1="182.60" y1="908.78" x2="182.02" y2="907.08" stroke="#111" stroke-width="0.6" />
<text x="181.77" y="906.32" font-size="2.6" text-anchor="start" transform="rotate(341.42 181.77 906.32)" dy="0" fill="#111">0MB</text>
<line x1="189.21" y1="906.68" x2="188.93" y2="905.73" stroke="#111" stroke-width="0.5" />
<line x1="195.90" y1="904.81" x2="195.65" y2="903.84" stroke="#111" stroke-width="0.5" />
<line x1="202.64" y1="903.17" x2="202.42" y2="902.19" stroke="#111" stroke-width="0.5" />
<line x1="209.44" y1="901.76" x2="209.25" y2="900.78" stroke="#111" stroke-width="0.5" />
<line x1="216.28" y1="900.58" x2="216.01" y2="898.80" stroke="#111" stroke-width="0.6" />
<text x="215.88" y="898.01" font-size="2.6" text-anchor="middle" transform="rotate(351.21 215.88 898.01)" dy="0" fill="#111">90MB</text>
<text x="197.50" y="884.50" font-size="14" text-anchor="middle" fill="#111">14</text>
<path d="M226.78 903.76 A198.6 198.6 0 0 1 265.18 903.51 L264.23 914.06 A188.0 188.0 0 0 0 227.87 914.31 Z" fill="#cecece"/>
<path d="M226.31 899.29 A203.1 203.1 0 0 1 265.58 899.02" fill="none" stroke="#111" stroke-width="0.6"/>
<line x1="226.31" y1="899.29" x2="226.13" y2="897.50" stroke="#111" stroke-width="0.6" />
<text x="226.04" y="896.70" font-size="2.6" text-anchor="start" transform="rotate(354.07 226.04 896.70)" dy="0" fill="#111">0MB</text>
<line x1="233.23" y1="898.69" x2="233.16" y2="897.69" stroke="#111" stroke-width="0.5" />
<line x1="240.16" y1="898.33" x2="240.13" y2="897.33" stroke="#111" stroke-width="0.5" />
<line x1="247.10" y1="898.20" x2="247.10" y2="897.20" stroke="#111" stroke-width="0.5" />
<line x1="254.04" y1="898.31" x2="254.08" y2="897.31" stroke="#111" stroke-width="0.5" />
<line x1="260.97" y1="898.66" x2="261.10" y2="896.86" stroke="#111" stroke-width="0.6" />
<text x="261.15" y="896.07" font-size="2.6" text-anchor="end" transform="rotate(363.86 261.15 896.07)" dy="0" fill="#111">90MB</text>
<text x="245.75" y="880.00" font-size="14" text-anchor="middle" fill="#111">15</text>
<path d="M268.63 903.85 A198.6 198.6 0 0 1 302.02 910.39 L299.10 920.58 A188.0 188.0 0 0 0 267.49 914.39 Z" fill="#bfbfbf"/>
<path d="M269.11 899.37 A203.1 203.1 0 0 1 303.26 906.06" fill="none" stroke="#111" stroke-width="0.6"/>
<line x1="269.11" y1="899.37" x2="269.31" y2="897.59" stroke="#111" stroke-width="0.6" />
<text x="269.39" y="896.79" font-size="2.6" text-anchor="start" transform="rotate(366.17 269.39 896.79)" dy="0" fill="#111">0MB</text>
<line x1="276.00" y1="900.24" x2="276.14" y2="899.25" stroke="#111" stroke-width="0.5" />
<line x1="282.85" y1="901.34" x2="283.03" y2="900.35" stroke="#111" stroke-width="0.5" />
<line x1="289.67" y1="902.67" x2="289.88" y2="901.69" stroke="#111" stroke-width="0.5" />
<line x1="296.43" y1="904.23" x2="296.67" y2="903.26" stroke="#111" stroke-width="0.5" />
<line x1="303.14" y1="906.03" x2="303.63" y2="904.30" stroke="#111" stroke-width="0.6" />
<text x="303.85" y="903.53" font-size="2.6" text-anchor="end" transform="rotate(375.96 303.85 903.53)" dy="0" fill="#111">90MB</text>
<text x="292.50" y="883.50" font-size="14" text-anchor="middle" fill="#111">16</text>
<path d="M305.35 911.37 A198.6 198.6 0 0 1 334.52 922.88 L329.87 932.40 A188.0 188.0 0 0 0 302.25 921.51 Z" fill="#adadad"/>
<path d="M306.66 907.07 A203.1 203.1 0 0 1 336.50 918.84" fill="none" stroke="#111" stroke-width="0.6"/>
<line x1="306.66" y1="907.07" x2="307.19" y2="905.35" stroke="#111" stroke-width="0.6" />
<text x="307.42" y="904.58" font-size="2.6" text-anchor="start" transform="rotate(376.99 307.42 904.58)" dy="0" fill="#111">0MB</text>
<line x1="313.26" y1="909.21" x2="313.59" y2="908.26" stroke="#111" stroke-width="0.5" />
<line x1="319.79" y1="911.58" x2="320.15" y2="910.64" stroke="#111" stroke-width="0.5" />
<line x1="326.23" y1="914.16" x2="326.62" y2="913.24" stroke="#111" stroke-width="0.5" />
<line x1="332.58" y1="916.97" x2="333.00" y2="916.06" stroke="#111" stroke-width="0.5" />
<text x="334.00" y="894.00" font-size="14" text-anchor="middle" fill="#111">17</text>
<path d="M337.62 924.43 A198.6 198.6 0 0 1 363.46 940.22 L357.26 948.81 A188.0 188.0 0 0 0 332.80 933.87 Z" fill="#999999"/>
<path d="M339.67 920.42 A203.1 203.1 0 0 1 366.10 936.57" fill="none" stroke="#111" stroke-width="0.6"/>
<line x1="339.67" y1="920.42" x2="340.49" y2="918.82" stroke="#111" stroke-width="0.6" />
<text x="340.85" y="918.11" font-size="2.6" text-anchor="start" transform="rotate(387.05 340.85 918.11)" dy="0" fill="#111">0MB</text>
<line x1="345.80" y1="923.68" x2="346.28" y2="922.81" stroke="#111" stroke-width="0.5" />
<line x1="351.81" y1="927.15" x2="352.33" y2="926.30" stroke="#111" stroke-width="0.5" />
<line x1="357.70" y1="930.83" x2="358.24" y2="929.99" stroke="#111" stroke-width="0.5" />
<line x1="363.46" y1="934.70" x2="364.03" y2="933.88" stroke="#111" stroke-width="0.5" />
<text x="369.00" y="913.50" font-size="14" text-anchor="middle" fill="#111">18</text>
<path d="M366.26 942.27 A198.6 198.6 0 0 1 383.19 956.47 L375.93 964.20 A188.0 188.0 0 0 0 359.91 950.76 Z" fill="#848484"/>
<path d="M368.95 938.66 A203.1 203.1 0 0 1 386.27 953.18" fill="none" stroke="#111" stroke-width="0.6"/>
<line x1="368.95" y1="938.66" x2="370.03" y2="937.22" stroke="#111" stroke-width="0.6" />
<text x="370.51" y="936.58" font-size="2.6" text-anchor="start" transform="rotate(396.80 370.51 936.58)" dy="0" fill="#111">0MB</text>
<line x1="374.44" y1="942.92" x2="375.07" y2="942.14" stroke="#111" stroke-width="0.5" />
<line x1="379.78" y1="947.35" x2="380.43" y2="946.60" stroke="#111" stroke-width="0.5" />
<line x1="384.96" y1="951.97" x2="385.64" y2="951.24" stroke="#111" stroke-width="0.5" />
<text x="394.50" y="932.50" font-size="14" text-anchor="middle" fill="#111">19</text>
<path d="M385.69 958.86 A198.6 198.6 0 0 1 402.04 976.82 L393.79 983.46 A188.0 188.0 0 0 0 378.31 966.46 Z" fill="#6e6e6e"/>
<path d="M388.83 955.63 A203.1 203.1 0 0 1 405.55 974.00" fill="none" stroke="#111" stroke-width="0.6"/>
<line x1="388.83" y1="955.63" x2="390.08" y2="954.34" stroke="#111" stroke-width="0.6" />
<text x="390.64" y="953.77" font-size="2.6" text-anchor="start" transform="rotate(404.17 390.64 953.77)" dy="0" fill="#111">0MB</text>
<line x1="393.72" y1="960.55" x2="394.45" y2="959.86" stroke="#111" stroke-width="0.5" />
<line x1="398.45" y1="965.64" x2="399.19" y2="964.97" stroke="#111" stroke-width="0.5" />
<line x1="403.00" y1="970.88" x2="403.76" y2="970.24" stroke="#111" stroke-width="0.5" />
<text x="418.00" y="952.50" font-size="14" text-anchor="middle" fill="#111">20</text>
<path d="M404.19 979.54 A198.6 198.6 0 0 1 414.36 993.91 L405.45 999.64 A188.0 188.0 0 0 0 395.82 986.04 Z" fill="#575757"/>
<path d="M407.75 976.78 A203.1 203.1 0 0 1 418.15 991.48" fill="none" stroke="#111" stroke-width="0.6"/>
<line x1="407.75" y1="976.78" x2="409.17" y2="975.67" stroke="#111" stroke-width="0.6" />
<text x="409.80" y="975.18" font-size="2.6" text-anchor="start" transform="rotate(412.19 409.80 975.18)" dy="0" fill="#111">0MB</text>
<line x1="411.91" y1="982.33" x2="412.72" y2="981.75" stroke="#111" stroke-width="0.5" />
<line x1="415.88" y1="988.03" x2="416.71" y2="987.47" stroke="#111" stroke-width="0.5" />
<text x="438.50" y="977.50" font-size="14" text-anchor="middle" fill="#111">21</text>
<path d="M416.21 996.85 A198.6 198.6 0 0 1 425.49 1013.61 L415.98 1018.29 A188.0 188.0 0 0 0 407.20 1002.42 Z" fill="#424242"/>
<path d="M420.04 994.48 A203.1 203.1 0 0 1 429.53 1011.62" fill="none" stroke="#111" stroke-width="0.6"/>
<line x1="420.04" y1="994.48" x2="421.57" y2="993.53" stroke="#111" stroke-width="0.6" />
<text x="422.25" y="993.11" font-size="2.6" text-anchor="start" transform="rotate(418.27 422.25 993.11)" dy="0" fill="#111">0MB</text>
<line x1="423.59" y1="1000.44" x2="424.46" y2="999.95" stroke="#111" stroke-width="0.5" />
<line x1="426.93" y1="1006.53" x2="427.82" y2="1006.06" stroke="#111" stroke-width="0.5" />
<text x="451.50" y="999.00" font-size="14" text-anchor="middle" fill="#111">22</text>
<path d="M426.99 1016.73 A198.6 198.6 0 0 1 443.86 1072.88 L433.37 1074.40 A188.0 188.0 0 0 0 417.40 1021.24 Z" fill="#2e2e2e"/>
<path d="M431.07 1014.81 A203.1 203.1 0 0 1 448.31 1072.24" fill="none" stroke="#111" stroke-width="0.6"/>
<line x1="431.07" y1="1014.81" x2="432.69" y2="1014.05" stroke="#111" stroke-width="0.6" />
<text x="433.42" y="1013.71" font-size="2.6" text-anchor="start" transform="rotate(424.80 433.42 1013.71)" dy="0" fill="#111">0MB</text>
<line x1="433.91" y1="1021.14" x2="434.83" y2="1020.75" stroke="#111" stroke-width="0.5" />
<line x1="436.54" y1="1027.57" x2="437.48" y2="1027.20" stroke="#111" stroke-width="0.5" />
<line x1="438.95" y1="1034.08" x2="439.90" y2="1033.75" stroke="#111" stroke-width="0.5" />
<line x1="441.14" y1="1040.67" x2="442.09" y2="1040.37" stroke="#111" stroke-width="0.5" />
<line x1="443.10" y1="1047.33" x2="444.83" y2="1046.85" stroke="#111" stroke-width="0.6" />
<text x="445.60" y="1046.64" font-size="2.6" text-anchor="middle" transform="rotate(434.59 445.60 1046.64)" dy="0" fill="#111">90MB</text>
<line x1="444.83" y1="1054.05" x2="445.80" y2="1053.82" stroke="#111" stroke-width="0.5" />
<line x1="446.33" y1="1060.83" x2="447.31" y2="1060.63" stroke="#111" stroke-width="0.5" />
<line x1="447.59" y1="1067.65" x2="448.58" y2="1067.49" stroke="#111" stroke-width="0.5" />
<text x="464.50" y="1043.50" font-size="14" text-anchor="middle" fill="#111">X</text>
<path d="M444.32 1076.32 A198.6 198.6 0 0 1 445.87 1097.83 L435.27 1098.02 A188.0 188.0 0 0 0 433.81 1077.65 Z" fill="#1a1a1a"/>
<path d="M448.79 1075.75 A203.1 203.1 0 0 1 450.37 1097.76" fill="none" stroke="#111" stroke-width="0.6"/>
<line x1="448.79" y1="1075.75" x2="450.57" y2="1075.53" stroke="#111" stroke-width="0.6" />
<text x="451.37" y="1075.42" font-size="2.6" text-anchor="start" transform="rotate(442.77 451.37 1075.42)" dy="0" fill="#111">0MB</text>
<line x1="449.54" y1="1082.65" x2="450.54" y2="1082.56" stroke="#111" stroke-width="0.5" />
<line x1="450.06" y1="1089.57" x2="451.06" y2="1089.52" stroke="#111" stroke-width="0.5" />
<line x1="450.34" y1="1096.51" x2="451.34" y2="1096.49" stroke="#111" stroke-width="0.5" />
<text x="470.00" y="1090.00" font-size="14" text-anchor="middle" fill="#111">Y</text>
<path d="M404.10 1197.58 Q247.30 1101.30 387.21 981.80" fill="none" stroke="#c8604f" stroke-width="1.1"/>
<path d="M426.30 1206.30 H453.70 L440.00 1228.90 Z" fill="#e60012"/>
<text x="440.50" y="1246.40" font-size="21.4" font-style="italic" fill="#111" letter-spacing="1.7">NLRC4</text>
<text x="235.50" y="1350.60" font-size="21.5" text-anchor="middle" fill="#111" letter-spacing="1.5">MiniCasUltra</text>
</g>
<g id="panelG">
<path d="M964.60 1100.00 A198.9 198.9 0 0 1 942.78 1190.57 L933.26 1185.69 A188.2 188.2 0 0 0 953.90 1100.00 Z" fill="#67001f"/>
<path d="M968.85 1100.00 A203.15 203.15 0 0 1 946.57 1192.50" fill="none" stroke="#111" stroke-width="0.6"/>
<line x1="968.85" y1="1100.00" x2="970.65" y2="1100.00" stroke="#111" stroke-width="0.6" />
<text x="971.45" y="1100.00" font-size="2.6" text-anchor="start" transform="rotate(90.00 971.45 1100.00)" dy="0" fill="#111">0MB</text>
<line x1="968.73" y1="1106.94" x2="969.73" y2="1106.98" stroke="#111" stroke-width="0.5" />
<line x1="968.38" y1="1113.88" x2="969.37" y2="1113.94" stroke="#111" stroke-width="0.5" />
<line x1="967.78" y1="1120.79" x2="968.78" y2="1120.90" stroke="#111" stroke-width="0.5" />
<line x1="966.95" y1="1127.69" x2="967.94" y2="1127.82" stroke="#111" stroke-width="0.5" />
<line x1="965.89" y1="1134.55" x2="967.66" y2="1134.86" stroke="#111" stroke-width="0.6" />
<text x="968.45" y="1134.99" font-size="2.6" text-anchor="middle" transform="rotate(-80.21 968.45 1134.99)" dy="2.0" fill="#111">90MB</text>
<line x1="964.59" y1="1141.37" x2="965.57" y2="1141.57" stroke="#111" stroke-width="0.5" />
<line x1="963.06" y1="1148.14" x2="964.03" y2="1148.38" stroke="#111" stroke-width="0.5" />
<line x1="961.30" y1="1154.86" x2="962.27" y2="1155.13" stroke="#111" stroke-width="0.5" />
<line x1="959.31" y1="1161.51" x2="960.27" y2="1161.81" stroke="#111" stroke-width="0.5" />
<line x1="957.10" y1="1168.09" x2="958.79" y2="1168.70" stroke="#111" stroke-width="0.6" />
<text x="959.55" y="1168.96" font-size="2.6" text-anchor="middle" transform="rotate(-70.42 959.55 1168.96)" dy="2.0" fill="#111">180MB</text>
<line x1="954.66" y1="1174.59" x2="955.59" y2="1174.96" stroke="#111" stroke-width="0.5" />
<line x1="952.00" y1="1181.01" x2="952.92" y2="1181.41" stroke="#111" stroke-width="0.5" />
<line x1="949.12" y1="1187.33" x2="950.03" y2="1187.76" stroke="#111" stroke-width="0.5" />
<text x="985.00" y="1155.80" font-size="14" text-anchor="middle" fill="#111">1</text>
<path d="M941.18 1193.64 A198.9 198.9 0 0 1 881.38 1261.80 L875.16 1253.10 A188.2 188.2 0 0 0 931.74 1188.61 Z" fill="#840924"/>
<path d="M944.93 1195.64 A203.15 203.15 0 0 1 883.85 1265.26" fill="none" stroke="#111" stroke-width="0.6"/>
<line x1="944.93" y1="1195.64" x2="946.51" y2="1196.49" stroke="#111" stroke-width="0.6" />
<text x="947.22" y="1196.87" font-size="2.6" text-anchor="end" transform="rotate(-61.91 947.22 1196.87)" dy="2.0" fill="#111">0MB</text>
<line x1="941.55" y1="1201.71" x2="942.42" y2="1202.21" stroke="#111" stroke-width="0.5" />
<line x1="937.97" y1="1207.66" x2="938.82" y2="1208.19" stroke="#111" stroke-width="0.5" />
<line x1="934.20" y1="1213.49" x2="935.02" y2="1214.05" stroke="#111" stroke-width="0.5" />
<line x1="930.22" y1="1219.18" x2="931.03" y2="1219.77" stroke="#111" stroke-width="0.5" />
<line x1="926.05" y1="1224.73" x2="927.47" y2="1225.84" stroke="#111" stroke-width="0.6" />
<text x="928.10" y="1226.33" font-size="2.6" text-anchor="middle" transform="rotate(-52.12 928.10 1226.33)" dy="2.0" fill="#111">90MB</text>
<line x1="921.69" y1="1230.14" x2="922.46" y2="1230.78" stroke="#111" stroke-width="0.5" />
<line x1="917.16" y1="1235.39" x2="917.90" y2="1236.06" stroke="#111" stroke-width="0.5" />
<line x1="912.44" y1="1240.49" x2="913.16" y2="1241.18" stroke="#111" stroke-width="0.5" />
<line x1="907.55" y1="1245.42" x2="908.25" y2="1246.14" stroke="#111" stroke-width="0.5" />
<line x1="902.50" y1="1250.18" x2="903.71" y2="1251.52" stroke="#111" stroke-width="0.6" />
<text x="904.25" y="1252.11" font-size="2.6" text-anchor="middle" transform="rotate(-42.33 904.25 1252.11)" dy="2.0" fill="#111">180MB</text>
<line x1="897.29" y1="1254.77" x2="897.94" y2="1255.53" stroke="#111" stroke-width="0.5" />
<line x1="891.92" y1="1259.18" x2="892.54" y2="1259.96" stroke="#111" stroke-width="0.5" />
<line x1="886.41" y1="1263.40" x2="887.00" y2="1264.20" stroke="#111" stroke-width="0.5" />
<text x="937.50" y="1251.80" font-size="14" text-anchor="middle" fill="#111">2</text>
<path d="M878.54 1263.79 A198.9 198.9 0 0 1 810.41 1293.81 L808.00 1283.38 A188.2 188.2 0 0 0 872.47 1254.98 Z" fill="#a21328"/>
<path d="M880.95 1267.29 A203.15 203.15 0 0 1 811.36 1297.95" fill="none" stroke="#111" stroke-width="0.6"/>
<line x1="880.95" y1="1267.29" x2="881.97" y2="1268.78" stroke="#111" stroke-width="0.6" />
<text x="882.43" y="1269.43" font-size="2.6" text-anchor="end" transform="rotate(-34.56 882.43 1269.43)" dy="2.0" fill="#111">0MB</text>
<line x1="875.17" y1="1271.13" x2="875.71" y2="1271.98" stroke="#111" stroke-width="0.5" />
<line x1="869.25" y1="1274.78" x2="869.76" y2="1275.64" stroke="#111" stroke-width="0.5" />
<line x1="863.22" y1="1278.21" x2="863.70" y2="1279.09" stroke="#111" stroke-width="0.5" />
<line x1="857.07" y1="1281.44" x2="857.52" y2="1282.33" stroke="#111" stroke-width="0.5" />
<line x1="850.82" y1="1284.46" x2="851.58" y2="1286.09" stroke="#111" stroke-width="0.6" />
<text x="851.91" y="1286.82" font-size="2.6" text-anchor="middle" transform="rotate(-24.77 851.91 1286.82)" dy="2.0" fill="#111">90MB</text>
<line x1="844.47" y1="1287.26" x2="844.86" y2="1288.18" stroke="#111" stroke-width="0.5" />
<line x1="838.02" y1="1289.84" x2="838.38" y2="1290.77" stroke="#111" stroke-width="0.5" />
<line x1="831.49" y1="1292.20" x2="831.82" y2="1293.15" stroke="#111" stroke-width="0.5" />
<line x1="824.89" y1="1294.34" x2="825.18" y2="1295.29" stroke="#111" stroke-width="0.5" />
<line x1="818.21" y1="1296.25" x2="818.68" y2="1297.99" stroke="#111" stroke-width="0.6" />
<text x="818.88" y="1298.76" font-size="2.6" text-anchor="middle" transform="rotate(-14.98 818.88 1298.76)" dy="2.0" fill="#111">180MB</text>
<line x1="811.47" y1="1297.93" x2="811.70" y2="1298.90" stroke="#111" stroke-width="0.5" />
<text x="858.50" y="1307.30" font-size="14" text-anchor="middle" fill="#111">3</text>
<path d="M807.02 1294.56 A198.9 198.9 0 0 1 735.59 1296.61 L737.21 1286.03 A188.2 188.2 0 0 0 804.79 1284.09 Z" fill="#b82531"/>
<path d="M807.90 1298.72 A203.15 203.15 0 0 1 734.95 1300.81" fill="none" stroke="#111" stroke-width="0.6"/>
<line x1="807.90" y1="1298.72" x2="808.27" y2="1300.48" stroke="#111" stroke-width="0.6" />
<text x="808.44" y="1301.26" font-size="2.6" text-anchor="end" transform="rotate(-11.99 808.44 1301.26)" dy="2.0" fill="#111">0MB</text>
<line x1="801.08" y1="1300.04" x2="801.26" y2="1301.03" stroke="#111" stroke-width="0.5" />
<line x1="794.23" y1="1301.14" x2="794.37" y2="1302.13" stroke="#111" stroke-width="0.5" />
<line x1="787.34" y1="1301.99" x2="787.44" y2="1302.99" stroke="#111" stroke-width="0.5" />
<line x1="780.42" y1="1302.62" x2="780.49" y2="1303.61" stroke="#111" stroke-width="0.5" />
<line x1="773.49" y1="1303.00" x2="773.56" y2="1304.80" stroke="#111" stroke-width="0.6" />
<text x="773.59" y="1305.60" font-size="2.6" text-anchor="middle" transform="rotate(-2.20 773.59 1305.60)" dy="2.0" fill="#111">90MB</text>
<line x1="766.55" y1="1303.15" x2="766.55" y2="1304.15" stroke="#111" stroke-width="0.5" />
<line x1="759.60" y1="1303.06" x2="759.57" y2="1304.06" stroke="#111" stroke-width="0.5" />
<line x1="752.67" y1="1302.73" x2="752.60" y2="1303.73" stroke="#111" stroke-width="0.5" />
<line x1="745.75" y1="1302.17" x2="745.65" y2="1303.16" stroke="#111" stroke-width="0.5" />
<line x1="738.85" y1="1301.37" x2="738.61" y2="1303.15" stroke="#111" stroke-width="0.6" />
<text x="738.51" y="1303.95" font-size="2.6" text-anchor="start" transform="rotate(7.59 738.51 1303.95)" dy="2.0" fill="#111">180MB</text>
<text x="772.50" y="1326.80" font-size="14" text-anchor="middle" fill="#111">4</text>
<path d="M732.17 1296.05 A198.9 198.9 0 0 1 667.89 1273.19 L673.15 1263.87 A188.2 188.2 0 0 0 733.97 1285.51 Z" fill="#c6413e"/>
<path d="M731.45 1300.24 A203.15 203.15 0 0 1 665.80 1276.89" fill="none" stroke="#111" stroke-width="0.6"/>
<line x1="731.45" y1="1300.24" x2="731.15" y2="1302.02" stroke="#111" stroke-width="0.6" />
<text x="731.01" y="1302.81" font-size="2.6" text-anchor="end" transform="rotate(9.71 731.01 1302.81)" dy="2.0" fill="#111">0MB</text>
<line x1="724.63" y1="1298.95" x2="724.43" y2="1299.93" stroke="#111" stroke-width="0.5" />
<line x1="717.85" y1="1297.44" x2="717.62" y2="1298.41" stroke="#111" stroke-width="0.5" />
<line x1="711.13" y1="1295.68" x2="710.87" y2="1296.65" stroke="#111" stroke-width="0.5" />
<line x1="704.48" y1="1293.71" x2="704.18" y2="1294.66" stroke="#111" stroke-width="0.5" />
<line x1="697.90" y1="1291.50" x2="697.29" y2="1293.20" stroke="#111" stroke-width="0.6" />
<text x="697.03" y="1293.95" font-size="2.6" text-anchor="middle" transform="rotate(19.50 697.03 1293.95)" dy="2.0" fill="#111">90MB</text>
<line x1="691.39" y1="1289.07" x2="691.03" y2="1290.00" stroke="#111" stroke-width="0.5" />
<line x1="684.97" y1="1286.42" x2="684.58" y2="1287.34" stroke="#111" stroke-width="0.5" />
<line x1="678.65" y1="1283.55" x2="678.22" y2="1284.46" stroke="#111" stroke-width="0.5" />
<line x1="672.43" y1="1280.47" x2="671.97" y2="1281.36" stroke="#111" stroke-width="0.5" />
<line x1="666.31" y1="1277.18" x2="665.43" y2="1278.75" stroke="#111" stroke-width="0.6" />
<text x="665.04" y="1279.45" font-size="2.6" text-anchor="start" transform="rotate(29.29 665.04 1279.45)" dy="2.0" fill="#111">180MB</text>
<text x="691.50" y="1314.30" font-size="14" text-anchor="middle" fill="#111">5</text>
<path d="M664.88 1271.45 A198.9 198.9 0 0 1 615.50 1230.38 L623.58 1223.37 A188.2 188.2 0 0 0 670.30 1262.23 Z" fill="#d45d4c"/>
<path d="M662.73 1275.12 A203.15 203.15 0 0 1 612.29 1233.17" fill="none" stroke="#111" stroke-width="0.6"/>
<line x1="662.73" y1="1275.12" x2="661.81" y2="1276.67" stroke="#111" stroke-width="0.6" />
<text x="661.41" y="1277.36" font-size="2.6" text-anchor="end" transform="rotate(30.46 661.41 1277.36)" dy="2.0" fill="#111">0MB</text>
<line x1="656.80" y1="1271.50" x2="656.27" y2="1272.34" stroke="#111" stroke-width="0.5" />
<line x1="651.00" y1="1267.67" x2="650.44" y2="1268.50" stroke="#111" stroke-width="0.5" />
<line x1="645.34" y1="1263.66" x2="644.75" y2="1264.46" stroke="#111" stroke-width="0.5" />
<line x1="639.82" y1="1259.45" x2="639.20" y2="1260.23" stroke="#111" stroke-width="0.5" />
<line x1="634.44" y1="1255.05" x2="633.28" y2="1256.43" stroke="#111" stroke-width="0.6" />
<text x="632.76" y="1257.04" font-size="2.6" text-anchor="middle" transform="rotate(40.25 632.76 1257.04)" dy="2.0" fill="#111">90MB</text>
<line x1="629.22" y1="1250.48" x2="628.55" y2="1251.22" stroke="#111" stroke-width="0.5" />
<line x1="624.16" y1="1245.73" x2="623.46" y2="1246.44" stroke="#111" stroke-width="0.5" />
<line x1="619.26" y1="1240.80" x2="618.54" y2="1241.50" stroke="#111" stroke-width="0.5" />
<line x1="614.54" y1="1235.72" x2="613.79" y2="1236.39" stroke="#111" stroke-width="0.5" />
<text x="622.50" y="1276.80" font-size="14" text-anchor="middle" fill="#111">6</text>
<path d="M613.24 1227.74 A198.9 198.9 0 0 1 582.10 1176.51 L591.98 1172.39 A188.2 188.2 0 0 0 621.44 1220.87 Z" fill="#e0785f"/>
<path d="M609.99 1230.47 A203.15 203.15 0 0 1 578.18 1178.14" fill="none" stroke="#111" stroke-width="0.6"/>
<line x1="609.99" y1="1230.47" x2="608.61" y2="1231.63" stroke="#111" stroke-width="0.6" />
<text x="607.99" y="1232.14" font-size="2.6" text-anchor="end" transform="rotate(50.04 607.99 1232.14)" dy="2.0" fill="#111">0MB</text>
<line x1="605.62" y1="1225.07" x2="604.83" y2="1225.69" stroke="#111" stroke-width="0.5" />
<line x1="601.44" y1="1219.53" x2="600.63" y2="1220.12" stroke="#111" stroke-width="0.5" />
<line x1="597.45" y1="1213.85" x2="596.62" y2="1214.41" stroke="#111" stroke-width="0.5" />
<line x1="593.66" y1="1208.03" x2="592.81" y2="1208.56" stroke="#111" stroke-width="0.5" />
<line x1="590.06" y1="1202.09" x2="588.51" y2="1202.99" stroke="#111" stroke-width="0.6" />
<text x="587.82" y="1203.40" font-size="2.6" text-anchor="middle" transform="rotate(59.83 587.82 1203.40)" dy="2.0" fill="#111">90MB</text>
<line x1="586.68" y1="1196.03" x2="585.80" y2="1196.50" stroke="#111" stroke-width="0.5" />
<line x1="583.50" y1="1189.85" x2="582.60" y2="1190.30" stroke="#111" stroke-width="0.5" />
<line x1="580.54" y1="1183.57" x2="579.63" y2="1183.99" stroke="#111" stroke-width="0.5" />
<text x="571.50" y="1222.80" font-size="14" text-anchor="middle" fill="#111">7</text>
<path d="M580.80 1173.29 A198.9 198.9 0 0 1 567.83 1120.21 L578.47 1119.12 A188.2 188.2 0 0 0 590.74 1169.35 Z" fill="#ec9374"/>
<path d="M576.84 1174.86 A203.15 203.15 0 0 1 563.60 1120.64" fill="none" stroke="#111" stroke-width="0.6"/>
<line x1="576.84" y1="1174.86" x2="575.17" y2="1175.52" stroke="#111" stroke-width="0.6" />
<text x="574.43" y="1175.82" font-size="2.6" text-anchor="end" transform="rotate(68.38 574.43 1175.82)" dy="2.0" fill="#111">0MB</text>
<line x1="574.40" y1="1168.36" x2="573.46" y2="1168.70" stroke="#111" stroke-width="0.5" />
<line x1="572.17" y1="1161.78" x2="571.22" y2="1162.09" stroke="#111" stroke-width="0.5" />
<line x1="570.17" y1="1155.13" x2="569.21" y2="1155.40" stroke="#111" stroke-width="0.5" />
<line x1="568.40" y1="1148.42" x2="567.43" y2="1148.66" stroke="#111" stroke-width="0.5" />
<line x1="566.87" y1="1141.65" x2="565.10" y2="1142.02" stroke="#111" stroke-width="0.6" />
<text x="564.32" y="1142.18" font-size="2.6" text-anchor="middle" transform="rotate(78.17 564.32 1142.18)" dy="2.0" fill="#111">90MB</text>
<line x1="565.56" y1="1134.83" x2="564.57" y2="1135.00" stroke="#111" stroke-width="0.5" />
<line x1="564.48" y1="1127.97" x2="563.49" y2="1128.11" stroke="#111" stroke-width="0.5" />
<line x1="563.65" y1="1121.08" x2="562.65" y2="1121.18" stroke="#111" stroke-width="0.5" />
<text x="546.50" y="1151.80" font-size="14" text-anchor="middle" fill="#111">8</text>
<path d="M567.51 1116.75 A198.9 198.9 0 0 1 569.96 1064.69 L580.49 1066.59 A188.2 188.2 0 0 0 578.17 1115.85 Z" fill="#f5ac8b"/>
<path d="M563.27 1117.11 A203.15 203.15 0 0 1 565.78 1063.94" fill="none" stroke="#111" stroke-width="0.6"/>
<line x1="563.27" y1="1117.11" x2="561.48" y2="1117.26" stroke="#111" stroke-width="0.6" />
<text x="560.68" y="1117.33" font-size="2.6" text-anchor="end" transform="rotate(85.17 560.68 1117.33)" dy="2.0" fill="#111">0MB</text>
<line x1="562.81" y1="1110.18" x2="561.81" y2="1110.23" stroke="#111" stroke-width="0.5" />
<line x1="562.58" y1="1103.24" x2="561.58" y2="1103.26" stroke="#111" stroke-width="0.5" />
<line x1="562.58" y1="1096.30" x2="561.58" y2="1096.28" stroke="#111" stroke-width="0.5" />
<line x1="562.83" y1="1089.36" x2="561.83" y2="1089.31" stroke="#111" stroke-width="0.5" />
<line x1="563.31" y1="1082.43" x2="561.52" y2="1082.28" stroke="#111" stroke-width="0.6" />
<text x="560.72" y="1082.21" font-size="2.6" text-anchor="middle" transform="rotate(274.96 560.72 1082.21)" dy="0" fill="#111">90MB</text>
<line x1="564.03" y1="1075.53" x2="563.04" y2="1075.41" stroke="#111" stroke-width="0.5" />
<line x1="564.98" y1="1068.65" x2="564.00" y2="1068.50" stroke="#111" stroke-width="0.5" />
<text x="541.50" y="1097.80" font-size="14" text-anchor="middle" fill="#111">9</text>
<path d="M570.61 1061.28 A198.9 198.9 0 0 1 586.60 1013.49 L596.24 1018.14 A188.2 188.2 0 0 0 581.10 1063.36 Z" fill="#f9c1a6"/>
<path d="M566.44 1060.45 A203.15 203.15 0 0 1 582.77 1011.64" fill="none" stroke="#111" stroke-width="0.6"/>
<line x1="566.44" y1="1060.45" x2="564.67" y2="1060.10" stroke="#111" stroke-width="0.6" />
<text x="563.89" y="1059.95" font-size="2.6" text-anchor="start" transform="rotate(281.23 563.89 1059.95)" dy="0" fill="#111">0MB</text>
<line x1="567.90" y1="1053.67" x2="566.93" y2="1053.44" stroke="#111" stroke-width="0.5" />
<line x1="569.60" y1="1046.93" x2="568.64" y2="1046.67" stroke="#111" stroke-width="0.5" />
<line x1="571.53" y1="1040.26" x2="570.58" y2="1039.97" stroke="#111" stroke-width="0.5" />
<line x1="573.69" y1="1033.66" x2="572.74" y2="1033.34" stroke="#111" stroke-width="0.5" />
<line x1="576.07" y1="1027.14" x2="574.38" y2="1026.49" stroke="#111" stroke-width="0.6" />
<text x="573.64" y="1026.21" font-size="2.6" text-anchor="middle" transform="rotate(291.02 573.64 1026.21)" dy="0" fill="#111">90MB</text>
<line x1="578.67" y1="1020.70" x2="577.75" y2="1020.31" stroke="#111" stroke-width="0.5" />
<line x1="581.48" y1="1014.36" x2="580.58" y2="1013.94" stroke="#111" stroke-width="0.5" />
<text x="546.50" y="1039.30" font-size="14" text-anchor="middle" fill="#111">10</text>
<path d="M588.14 1010.37 A198.9 198.9 0 0 1 616.69 968.26 L624.70 975.34 A188.2 188.2 0 0 0 597.69 1015.20 Z" fill="#fcd6c1"/>
<path d="M584.34 1008.46 A203.15 203.15 0 0 1 613.50 965.44" fill="none" stroke="#111" stroke-width="0.6"/>
<line x1="584.34" y1="1008.46" x2="582.74" y2="1007.65" stroke="#111" stroke-width="0.6" />
<text x="582.02" y="1007.29" font-size="2.6" text-anchor="start" transform="rotate(296.78 582.02 1007.29)" dy="0" fill="#111">0MB</text>
<line x1="587.58" y1="1002.32" x2="586.70" y2="1001.83" stroke="#111" stroke-width="0.5" />
<line x1="591.02" y1="996.29" x2="590.16" y2="995.77" stroke="#111" stroke-width="0.5" />
<line x1="594.67" y1="990.38" x2="593.82" y2="989.84" stroke="#111" stroke-width="0.5" />
<line x1="598.51" y1="984.60" x2="597.69" y2="984.03" stroke="#111" stroke-width="0.5" />
<line x1="602.55" y1="978.95" x2="601.11" y2="977.88" stroke="#111" stroke-width="0.6" />
<text x="600.47" y="977.40" font-size="2.6" text-anchor="middle" transform="rotate(306.57 600.47 977.40)" dy="0" fill="#111">90MB</text>
<line x1="606.79" y1="973.45" x2="606.00" y2="972.82" stroke="#111" stroke-width="0.5" />
<line x1="611.20" y1="968.09" x2="610.44" y2="967.44" stroke="#111" stroke-width="0.5" />
<text x="576.00" y="978.30" font-size="14" text-anchor="middle" fill="#111">11</text>
<path d="M619.01 965.68 A198.9 198.9 0 0 1 657.32 933.22 L663.15 942.20 A188.2 188.2 0 0 0 626.90 972.90 Z" fill="#f4ddcf"/>
<path d="M615.87 962.81 A203.15 203.15 0 0 1 655.00 929.66" fill="none" stroke="#111" stroke-width="0.6"/>
<line x1="615.87" y1="962.81" x2="614.55" y2="961.59" stroke="#111" stroke-width="0.6" />
<text x="613.96" y="961.05" font-size="2.6" text-anchor="start" transform="rotate(312.48 613.96 961.05)" dy="0" fill="#111">0MB</text>
<line x1="620.65" y1="957.77" x2="619.94" y2="957.07" stroke="#111" stroke-width="0.5" />
<line x1="625.60" y1="952.89" x2="624.91" y2="952.17" stroke="#111" stroke-width="0.5" />
<line x1="630.70" y1="948.19" x2="630.04" y2="947.44" stroke="#111" stroke-width="0.5" />
<line x1="635.97" y1="943.67" x2="635.33" y2="942.90" stroke="#111" stroke-width="0.5" />
<line x1="641.39" y1="939.32" x2="640.29" y2="937.90" stroke="#111" stroke-width="0.6" />
<text x="639.80" y="937.27" font-size="2.6" text-anchor="middle" transform="rotate(322.27 639.80 937.27)" dy="0" fill="#111">90MB</text>
<line x1="646.95" y1="935.17" x2="646.37" y2="934.36" stroke="#111" stroke-width="0.5" />
<line x1="652.66" y1="931.21" x2="652.10" y2="930.38" stroke="#111" stroke-width="0.5" />
<text x="616.50" y="930.80" font-size="14" text-anchor="middle" fill="#111">12</text>
<path d="M660.24 931.36 A198.9 198.9 0 0 1 699.05 912.60 L702.64 922.68 A188.2 188.2 0 0 0 665.92 940.43 Z" fill="#e9ded8"/>
<path d="M657.99 927.76 A203.15 203.15 0 0 1 697.63 908.59" fill="none" stroke="#111" stroke-width="0.6"/>
<line x1="657.99" y1="927.76" x2="657.03" y2="926.23" stroke="#111" stroke-width="0.6" />
<text x="656.61" y="925.55" font-size="2.6" text-anchor="start" transform="rotate(327.98 656.61 925.55)" dy="0" fill="#111">0MB</text>
<line x1="663.94" y1="924.17" x2="663.44" y2="923.31" stroke="#111" stroke-width="0.5" />
<line x1="670.01" y1="920.80" x2="669.54" y2="919.92" stroke="#111" stroke-width="0.5" />
<line x1="676.19" y1="917.63" x2="675.75" y2="916.74" stroke="#111" stroke-width="0.5" />
<line x1="682.47" y1="914.68" x2="682.06" y2="913.77" stroke="#111" stroke-width="0.5" />
<line x1="688.85" y1="911.95" x2="688.17" y2="910.28" stroke="#111" stroke-width="0.6" />
<text x="687.87" y="909.54" font-size="2.6" text-anchor="middle" transform="rotate(337.77 687.87 909.54)" dy="0" fill="#111">90MB</text>
<line x1="695.32" y1="909.43" x2="694.98" y2="908.49" stroke="#111" stroke-width="0.5" />
<text x="665.50" y="900.80" font-size="14" text-anchor="middle" fill="#111">13</text>
<path d="M702.33 911.46 A198.9 198.9 0 0 1 741.70 902.55 L742.99 913.18 A188.2 188.2 0 0 0 705.74 921.61 Z" fill="#dddddd"/>
<path d="M700.98 907.43 A203.15 203.15 0 0 1 741.18 898.33" fill="none" stroke="#111" stroke-width="0.6"/>
<line x1="700.98" y1="907.43" x2="700.41" y2="905.73" stroke="#111" stroke-width="0.6" />
<text x="700.15" y="904.97" font-size="2.6" text-anchor="start" transform="rotate(341.42 700.15 904.97)" dy="0" fill="#111">0MB</text>
<line x1="707.60" y1="905.34" x2="707.31" y2="904.38" stroke="#111" stroke-width="0.5" />
<line x1="714.29" y1="903.46" x2="714.03" y2="902.50" stroke="#111" stroke-width="0.5" />
<line x1="721.03" y1="901.82" x2="720.81" y2="900.85" stroke="#111" stroke-width="0.5" />
<line x1="727.83" y1="900.41" x2="727.64" y2="899.43" stroke="#111" stroke-width="0.5" />
<line x1="734.67" y1="899.23" x2="734.40" y2="897.45" stroke="#111" stroke-width="0.6" />
<text x="734.28" y="896.66" font-size="2.6" text-anchor="middle" transform="rotate(351.21 734.28 896.66)" dy="0" fill="#111">90MB</text>
<text x="715.00" y="887.30" font-size="14" text-anchor="middle" fill="#111">14</text>
<path d="M745.15 902.16 A198.9 198.9 0 0 1 783.61 901.91 L782.64 912.56 A188.2 188.2 0 0 0 746.25 912.81 Z" fill="#cecece"/>
<path d="M744.71 897.94 A203.15 203.15 0 0 1 783.99 897.67" fill="none" stroke="#111" stroke-width="0.6"/>
<line x1="744.71" y1="897.94" x2="744.52" y2="896.15" stroke="#111" stroke-width="0.6" />
<text x="744.44" y="895.35" font-size="2.6" text-anchor="start" transform="rotate(354.07 744.44 895.35)" dy="0" fill="#111">0MB</text>
<line x1="751.63" y1="897.34" x2="751.56" y2="896.34" stroke="#111" stroke-width="0.5" />
<line x1="758.56" y1="896.98" x2="758.52" y2="895.98" stroke="#111" stroke-width="0.5" />
<line x1="765.50" y1="896.85" x2="765.50" y2="895.85" stroke="#111" stroke-width="0.5" />
<line x1="772.44" y1="896.96" x2="772.48" y2="895.96" stroke="#111" stroke-width="0.5" />
<line x1="779.38" y1="897.31" x2="779.50" y2="895.52" stroke="#111" stroke-width="0.6" />
<text x="779.55" y="894.72" font-size="2.6" text-anchor="end" transform="rotate(363.86 779.55 894.72)" dy="0" fill="#111">90MB</text>
<text x="763.50" y="879.30" font-size="14" text-anchor="middle" fill="#111">15</text>
<path d="M787.06 902.25 A198.9 198.9 0 0 1 820.50 908.80 L817.56 919.09 A188.2 188.2 0 0 0 785.91 912.89 Z" fill="#bfbfbf"/>
<path d="M787.52 898.02 A203.15 203.15 0 0 1 821.68 904.71" fill="none" stroke="#111" stroke-width="0.6"/>
<line x1="787.52" y1="898.02" x2="787.71" y2="896.24" stroke="#111" stroke-width="0.6" />
<text x="787.80" y="895.44" font-size="2.6" text-anchor="start" transform="rotate(366.17 787.80 895.44)" dy="0" fill="#111">0MB</text>
<line x1="794.41" y1="898.89" x2="794.55" y2="897.90" stroke="#111" stroke-width="0.5" />
<line x1="801.26" y1="899.99" x2="801.44" y2="899.00" stroke="#111" stroke-width="0.5" />
<line x1="808.08" y1="901.32" x2="808.29" y2="900.34" stroke="#111" stroke-width="0.5" />
<line x1="814.84" y1="902.88" x2="815.08" y2="901.91" stroke="#111" stroke-width="0.5" />
<line x1="821.55" y1="904.68" x2="822.04" y2="902.95" stroke="#111" stroke-width="0.6" />
<text x="822.26" y="902.18" font-size="2.6" text-anchor="end" transform="rotate(375.96 822.26 902.18)" dy="0" fill="#111">90MB</text>
<text x="811.00" y="883.30" font-size="14" text-anchor="middle" fill="#111">16</text>
<path d="M823.83 909.78 A198.9 198.9 0 0 1 853.06 921.31 L848.36 930.92 A188.2 188.2 0 0 0 820.71 920.02 Z" fill="#adadad"/>
<path d="M825.08 905.72 A203.15 203.15 0 0 1 854.92 917.49" fill="none" stroke="#111" stroke-width="0.6"/>
<line x1="825.08" y1="905.72" x2="825.60" y2="904.00" stroke="#111" stroke-width="0.6" />
<text x="825.83" y="903.23" font-size="2.6" text-anchor="start" transform="rotate(376.99 825.83 903.23)" dy="0" fill="#111">0MB</text>
<line x1="831.68" y1="907.86" x2="832.00" y2="906.92" stroke="#111" stroke-width="0.5" />
<line x1="838.21" y1="910.23" x2="838.56" y2="909.30" stroke="#111" stroke-width="0.5" />
<line x1="844.65" y1="912.82" x2="845.04" y2="911.90" stroke="#111" stroke-width="0.5" />
<line x1="851.00" y1="915.63" x2="851.42" y2="914.72" stroke="#111" stroke-width="0.5" />
<text x="851.00" y="897.80" font-size="14" text-anchor="middle" fill="#111">17</text>
<path d="M856.16 922.86 A198.9 198.9 0 0 1 882.04 938.67 L875.78 947.35 A188.2 188.2 0 0 0 851.29 932.39 Z" fill="#999999"/>
<path d="M858.09 919.08 A203.15 203.15 0 0 1 884.52 935.23" fill="none" stroke="#111" stroke-width="0.6"/>
<line x1="858.09" y1="919.08" x2="858.91" y2="917.47" stroke="#111" stroke-width="0.6" />
<text x="859.28" y="916.76" font-size="2.6" text-anchor="start" transform="rotate(387.05 859.28 916.76)" dy="0" fill="#111">0MB</text>
<line x1="864.22" y1="922.34" x2="864.71" y2="921.47" stroke="#111" stroke-width="0.5" />
<line x1="870.24" y1="925.81" x2="870.75" y2="924.95" stroke="#111" stroke-width="0.5" />
<line x1="876.13" y1="929.48" x2="876.67" y2="928.65" stroke="#111" stroke-width="0.5" />
<line x1="881.89" y1="933.36" x2="882.46" y2="932.54" stroke="#111" stroke-width="0.5" />
<text x="884.00" y="909.30" font-size="14" text-anchor="middle" fill="#111">18</text>
<path d="M884.84 940.73 A198.9 198.9 0 0 1 901.79 954.95 L894.47 962.75 A188.2 188.2 0 0 0 878.43 949.30 Z" fill="#848484"/>
<path d="M887.38 937.32 A203.15 203.15 0 0 1 904.70 951.85" fill="none" stroke="#111" stroke-width="0.6"/>
<line x1="887.38" y1="937.32" x2="888.46" y2="935.88" stroke="#111" stroke-width="0.6" />
<text x="888.94" y="935.24" font-size="2.6" text-anchor="start" transform="rotate(396.80 888.94 935.24)" dy="0" fill="#111">0MB</text>
<line x1="892.87" y1="941.58" x2="893.50" y2="940.80" stroke="#111" stroke-width="0.5" />
<line x1="898.21" y1="946.02" x2="898.86" y2="945.26" stroke="#111" stroke-width="0.5" />
<line x1="903.39" y1="950.63" x2="904.07" y2="949.90" stroke="#111" stroke-width="0.5" />
<text x="912.50" y="931.80" font-size="14" text-anchor="middle" fill="#111">19</text>
<path d="M904.30 957.34 A198.9 198.9 0 0 1 920.68 975.33 L912.34 982.04 A188.2 188.2 0 0 0 896.85 965.02 Z" fill="#6e6e6e"/>
<path d="M907.26 954.30 A203.15 203.15 0 0 1 923.99 972.67" fill="none" stroke="#111" stroke-width="0.6"/>
<line x1="907.26" y1="954.30" x2="908.52" y2="953.01" stroke="#111" stroke-width="0.6" />
<text x="909.08" y="952.43" font-size="2.6" text-anchor="start" transform="rotate(404.17 909.08 952.43)" dy="0" fill="#111">0MB</text>
<line x1="912.16" y1="959.22" x2="912.88" y2="958.53" stroke="#111" stroke-width="0.5" />
<line x1="916.89" y1="964.31" x2="917.63" y2="963.64" stroke="#111" stroke-width="0.5" />
<line x1="921.43" y1="969.55" x2="922.20" y2="968.91" stroke="#111" stroke-width="0.5" />
<text x="937.50" y="952.30" font-size="14" text-anchor="middle" fill="#111">20</text>
<path d="M922.83 978.05 A198.9 198.9 0 0 1 933.02 992.45 L924.01 998.24 A188.2 188.2 0 0 0 914.38 984.61 Z" fill="#575757"/>
<path d="M926.19 975.45 A203.15 203.15 0 0 1 936.59 990.15" fill="none" stroke="#111" stroke-width="0.6"/>
<line x1="926.19" y1="975.45" x2="927.61" y2="974.34" stroke="#111" stroke-width="0.6" />
<text x="928.24" y="973.85" font-size="2.6" text-anchor="start" transform="rotate(412.19 928.24 973.85)" dy="0" fill="#111">0MB</text>
<line x1="930.35" y1="981.00" x2="931.16" y2="980.42" stroke="#111" stroke-width="0.5" />
<line x1="934.32" y1="986.70" x2="935.15" y2="986.14" stroke="#111" stroke-width="0.5" />
<text x="958.00" y="975.80" font-size="14" text-anchor="middle" fill="#111">21</text>
<path d="M934.87 995.39 A198.9 198.9 0 0 1 944.16 1012.17 L934.56 1016.90 A188.2 188.2 0 0 0 925.77 1001.02 Z" fill="#424242"/>
<path d="M938.48 993.15 A203.15 203.15 0 0 1 947.97 1010.30" fill="none" stroke="#111" stroke-width="0.6"/>
<line x1="938.48" y1="993.15" x2="940.01" y2="992.21" stroke="#111" stroke-width="0.6" />
<text x="940.69" y="991.78" font-size="2.6" text-anchor="start" transform="rotate(418.27 940.69 991.78)" dy="0" fill="#111">0MB</text>
<line x1="942.03" y1="999.12" x2="942.90" y2="998.62" stroke="#111" stroke-width="0.5" />
<line x1="945.38" y1="1005.20" x2="946.26" y2="1004.74" stroke="#111" stroke-width="0.5" />
<text x="969.00" y="999.30" font-size="14" text-anchor="middle" fill="#111">22</text>
<path d="M945.67 1015.30 A198.9 198.9 0 0 1 962.55 1071.54 L951.96 1073.07 A188.2 188.2 0 0 0 935.98 1019.86 Z" fill="#2e2e2e"/>
<path d="M949.51 1013.49 A203.15 203.15 0 0 1 966.76 1070.93" fill="none" stroke="#111" stroke-width="0.6"/>
<line x1="949.51" y1="1013.49" x2="951.14" y2="1012.73" stroke="#111" stroke-width="0.6" />
<text x="951.86" y="1012.38" font-size="2.6" text-anchor="start" transform="rotate(424.80 951.86 1012.38)" dy="0" fill="#111">0MB</text>
<line x1="952.36" y1="1019.82" x2="953.28" y2="1019.43" stroke="#111" stroke-width="0.5" />
<line x1="954.99" y1="1026.25" x2="955.92" y2="1025.89" stroke="#111" stroke-width="0.5" />
<line x1="957.40" y1="1032.76" x2="958.34" y2="1032.43" stroke="#111" stroke-width="0.5" />
<line x1="959.59" y1="1039.35" x2="960.54" y2="1039.05" stroke="#111" stroke-width="0.5" />
<line x1="961.55" y1="1046.01" x2="963.28" y2="1045.53" stroke="#111" stroke-width="0.6" />
<text x="964.05" y="1045.32" font-size="2.6" text-anchor="middle" transform="rotate(434.59 964.05 1045.32)" dy="0" fill="#111">90MB</text>
<line x1="963.28" y1="1052.74" x2="964.25" y2="1052.50" stroke="#111" stroke-width="0.5" />
<line x1="964.78" y1="1059.52" x2="965.76" y2="1059.32" stroke="#111" stroke-width="0.5" />
<line x1="966.04" y1="1066.34" x2="967.03" y2="1066.18" stroke="#111" stroke-width="0.5" />
<text x="981.00" y="1042.80" font-size="14" text-anchor="middle" fill="#111">X</text>
<path d="M963.02 1074.98 A198.9 198.9 0 0 1 964.57 1096.53 L953.87 1096.72 A188.2 188.2 0 0 0 952.41 1076.33 Z" fill="#1a1a1a"/>
<path d="M967.24 1074.45 A203.15 203.15 0 0 1 968.82 1096.45" fill="none" stroke="#111" stroke-width="0.6"/>
<line x1="967.24" y1="1074.45" x2="969.02" y2="1074.22" stroke="#111" stroke-width="0.6" />
<text x="969.82" y="1074.12" font-size="2.6" text-anchor="start" transform="rotate(442.77 969.82 1074.12)" dy="0" fill="#111">0MB</text>
<line x1="967.99" y1="1081.35" x2="968.99" y2="1081.26" stroke="#111" stroke-width="0.5" />
<line x1="968.51" y1="1088.27" x2="969.51" y2="1088.21" stroke="#111" stroke-width="0.5" />
<line x1="968.79" y1="1095.21" x2="969.79" y2="1095.19" stroke="#111" stroke-width="0.5" />
<text x="988.00" y="1089.30" font-size="14" text-anchor="middle" fill="#111">Y</text>
<path d="M922.42 1196.41 Q765.70 1100.00 581.95 1090.37" fill="none" stroke="#c8594b" stroke-width="0.9"/>
<path d="M922.42 1196.41 Q765.70 1100.00 650.15 1243.20" fill="none" stroke="#f0a382" stroke-width="0.9"/>
<path d="M922.42 1196.41 Q765.70 1100.00 707.62 1274.59" fill="none" stroke="#f4a772" stroke-width="0.9"/>
<path d="M922.42 1196.41 Q765.70 1100.00 755.11 1283.69" fill="none" stroke="#e8786c" stroke-width="0.9"/>
<path d="M922.42 1196.41 Q765.70 1100.00 929.79 1016.75" fill="none" stroke="#86696a" stroke-width="0.9"/>
<path d="M922.42 1196.41 Q765.70 1100.00 831.34 928.11" fill="none" stroke="#555555" stroke-width="0.8"/>
<path d="M922.42 1196.41 Q765.70 1100.00 835.22 929.64" fill="none" stroke="#555555" stroke-width="0.8"/>
<path d="M946.30 1205.30 H973.70 L960.00 1227.90 Z" fill="#e60012"/>
<text x="961.30" y="1247.20" font-size="21.0" font-style="italic" fill="#111" letter-spacing="1.5">NLRC4</text>
<text x="769.00" y="1349.00" font-size="21.5" text-anchor="middle" fill="#111" letter-spacing="1.9">SpCas9</text>
</g>
</svg>
</body>
</html>
